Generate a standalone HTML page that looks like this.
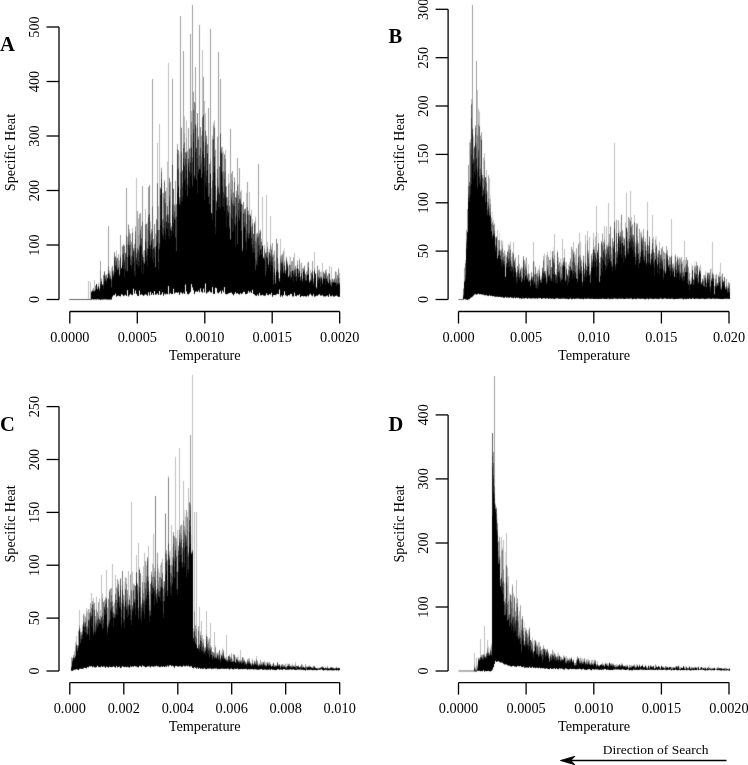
<!DOCTYPE html>
<html><head><meta charset="utf-8"><style>
html,body{margin:0;padding:0;background:#fff;}
svg{display:block;will-change:transform;}
.ax{stroke:#000;stroke-width:1.3;fill:none;}
.tk{font-family:"Liberation Serif", serif;font-size:14.3px;fill:#000;}
.lb{font-family:"Liberation Serif", serif;font-size:20.5px;font-weight:bold;fill:#000;}
</style></head><body>
<svg width="748" height="765" viewBox="0 0 748 765">
<rect width="748" height="765" fill="#fff"/>
<defs><filter id="bl" color-interpolation-filters="sRGB" x="0" y="0" width="748" height="765" filterUnits="userSpaceOnUse"><feConvolveMatrix order="3" kernelMatrix="0.0115 0.084 0.0115 0.084 0.618 0.084 0.0115 0.084 0.0115" divisor="1" edgeMode="none" preserveAlpha="false"/></filter></defs>
<g filter="url(#bl)">
<path stroke="rgb(224,224,224)" stroke-width="1" fill="none" shape-rendering="crispEdges" d="M76.5 669v1M78.5 670v1M80.5 629v3M82.5 624v1M84.5 613v3M85.5 616v1M89.5 609v4M91.5 290v1M91.5 666v1M92.5 289v1M92.5 299v1M92.5 667v1M94.5 602v1M96.5 596v1M96.5 667v1M97.5 286v2M97.5 611v1M98.5 282v1M99.5 598v1M99.5 667v1M102.5 593v1M107.5 607v1M108.5 598v1M109.5 589v1M110.5 271v1M110.5 588v1M111.5 267v1M111.5 667v1M112.5 265v1M113.5 270v1M113.5 605v1M114.5 602v1M116.5 250v1M119.5 260v1M119.5 296v1M119.5 595v1M120.5 668v1M121.5 266v1M121.5 598v4M122.5 666v1M123.5 296v1M123.5 594v1M124.5 245v1M124.5 582v14M124.5 667v1M125.5 252v1M127.5 290v1M128.5 667v1M129.5 295v1M129.5 595v1M132.5 295v1M133.5 583v1M137.5 583v1M137.5 667v1M138.5 218v1M139.5 567v1M140.5 666v1M141.5 225v1M141.5 603v1M142.5 576v6M143.5 251v1M143.5 566v1M146.5 565v1M147.5 222v1M149.5 591v1M150.5 221v1M150.5 583v1M151.5 571v1M152.5 293v1M152.5 563v1M157.5 552v1M158.5 568v1M159.5 572v1M159.5 667v1M161.5 167v1M162.5 193v1M162.5 292v1M162.5 558v1M163.5 192v1M163.5 581v1M166.5 187v1M167.5 161v1M168.5 286v1M169.5 177v1M169.5 551v1M170.5 181v1M170.5 550v15M170.5 665v1M171.5 666v1M172.5 547v10M173.5 188v1M175.5 180v1M178.5 545v1M179.5 155v42M180.5 525v1M180.5 666v1M181.5 127v1M181.5 524v1M182.5 525v22M184.5 116v1M184.5 510v16M185.5 516v1M186.5 120v1M187.5 150v1M187.5 512v5M191.5 284v1M191.5 535v17M193.5 91v1M193.5 628v1M196.5 127v1M197.5 647v1M200.5 631v1M201.5 135v1M204.5 646v2M204.5 668v1M205.5 669v1M206.5 135v1M206.5 669v1M207.5 636v1M208.5 639v1M211.5 669v1M212.5 135v1M212.5 287v1M213.5 122v1M215.5 149v1M215.5 645v2M216.5 190v10M216.5 652v2M217.5 136v1M219.5 292v1M219.5 649v1M219.5 669v1M220.5 653v1M221.5 651v4M222.5 146v1M223.5 151v1M224.5 287v1M225.5 657v1M227.5 658v1M229.5 654v1M232.5 669v1M234.5 654v1M235.5 292v1M235.5 656v1M236.5 657v1M238.5 294v1M238.5 655v5M239.5 659v1M239.5 669v1M240.5 191v1M240.5 669v1M241.5 294v1M241.5 659v1M242.5 204v1M244.5 659v1M244.5 669v1M245.5 661v1M248.5 210v1M248.5 669v1M250.5 213v1M251.5 209v1M251.5 669v1M252.5 658v1M252.5 669v1M253.5 233v1M254.5 660v1M255.5 216v1M255.5 660v2M257.5 232v1M258.5 663v1M260.5 229v1M262.5 661v1M264.5 660v1M265.5 662v1M268.5 251v1M268.5 662v1M269.5 661v1M270.5 663v1M271.5 246v1M271.5 665v1M271.5 669v1M273.5 295v1M273.5 662v1M274.5 250v1M274.5 664v1M275.5 260v15M275.5 295v1M275.5 670v1M278.5 263v1M278.5 294v1M278.5 669v1M280.5 665v1M282.5 253v1M283.5 250v1M283.5 295v1M283.5 664v1M283.5 669v1M284.5 248v13M284.5 669v1M285.5 269v1M285.5 663v1M286.5 256v1M286.5 665v1M287.5 261v1M287.5 663v1M288.5 266v1M289.5 256v8M289.5 663v1M290.5 665v1M291.5 261v1M292.5 663v1M293.5 665v1M295.5 265v1M296.5 665v1M300.5 264v12M301.5 262v1M301.5 296v1M302.5 664v1M303.5 267v1M304.5 265v1M306.5 271v1M307.5 666v1M307.5 670v1M308.5 261v1M310.5 269v1M313.5 294v1M313.5 665v1M317.5 265v1M317.5 667v1M318.5 667v1M321.5 271v1M321.5 666v1M323.5 271v1M324.5 670v1M325.5 666v1M326.5 667v1M327.5 275v1M327.5 665v1M330.5 279v1M330.5 670v1M332.5 278v1M333.5 279v1M333.5 667v1M336.5 666v1M337.5 667v1M337.5 670v1M338.5 667v1M463.5 299v1M464.5 267v1M466.5 229v1M469.5 299v1M473.5 136v1M475.5 294v1M475.5 666v1M477.5 664v1M478.5 108v1M478.5 657v1M479.5 111v1M480.5 135v1M480.5 294v1M482.5 654v1M483.5 157v1M486.5 295v1M486.5 652v1M487.5 191v1M489.5 652v1M490.5 195v4M490.5 647v1M491.5 217v1M491.5 643v2M492.5 211v10M494.5 223v1M495.5 503v1M497.5 518v5M498.5 661v1M499.5 233v7M499.5 536v1M500.5 556v23M502.5 547v2M503.5 252v1M504.5 583v1M505.5 254v1M505.5 552v46M506.5 255v2M507.5 567v1M509.5 593v6M510.5 297v1M511.5 595v1M513.5 593v1M518.5 614v2M520.5 268v1M521.5 266v1M522.5 667v1M523.5 627v1M524.5 621v20M525.5 259v4M525.5 627v1M526.5 628v2M527.5 273v1M527.5 633v1M528.5 264v1M528.5 298v1M529.5 273v1M529.5 626v2M530.5 279v1M531.5 271v1M532.5 637v1M533.5 641v10M534.5 261v13M535.5 668v1M536.5 273v1M536.5 642v1M537.5 270v1M537.5 644v1M538.5 298v1M538.5 668v1M539.5 265v1M540.5 277v2M540.5 298v1M541.5 275v1M541.5 649v1M544.5 253v1M546.5 649v1M547.5 648v1M550.5 250v8M550.5 653v1M552.5 649v1M553.5 247v4M553.5 651v1M554.5 299v1M554.5 652v1M555.5 273v1M555.5 669v1M556.5 656v1M557.5 653v3M558.5 652v1M560.5 258v1M560.5 656v1M562.5 658v1M565.5 262v1M567.5 669v1M568.5 264v1M569.5 657v1M569.5 669v1M570.5 658v1M571.5 246v1M571.5 669v1M572.5 660v1M574.5 251v1M575.5 254v1M575.5 662v1M576.5 659v1M577.5 263v2M577.5 669v1M578.5 243v1M578.5 669v1M579.5 658v2M580.5 241v1M580.5 657v1M581.5 259v1M581.5 658v1M582.5 270v1M582.5 658v1M582.5 669v1M583.5 255v1M583.5 659v2M584.5 268v1M586.5 265v1M587.5 659v1M588.5 250v1M592.5 252v1M592.5 669v1M593.5 232v1M593.5 660v3M594.5 659v1M595.5 236v1M597.5 661v1M598.5 233v10M598.5 299v1M600.5 256v1M600.5 664v1M604.5 663v1M605.5 662v1M605.5 669v1M606.5 226v1M606.5 299v1M606.5 663v1M608.5 664v1M610.5 663v1M610.5 670v1M611.5 247v1M612.5 299v1M612.5 663v1M613.5 241v1M613.5 663v1M614.5 664v1M616.5 219v1M617.5 243v1M617.5 299v1M617.5 664v1M619.5 230v6M620.5 223v9M621.5 214v1M622.5 663v1M622.5 669v1M624.5 665v1M625.5 222v1M627.5 228v3M627.5 664v1M628.5 666v1M629.5 218v1M629.5 664v1M632.5 665v1M635.5 242v1M635.5 665v1M636.5 299v1M637.5 223v1M637.5 664v1M638.5 666v1M639.5 228v1M640.5 232v1M640.5 666v1M641.5 231v1M643.5 228v1M644.5 241v1M644.5 299v1M644.5 666v1M645.5 238v1M645.5 664v1M646.5 247v4M646.5 666v1M647.5 667v1M648.5 245v1M649.5 666v1M650.5 254v1M651.5 249v1M653.5 665v1M655.5 236v3M656.5 236v8M656.5 665v1M657.5 670v1M658.5 299v1M659.5 666v1M662.5 299v1M663.5 666v1M664.5 252v1M664.5 667v1M665.5 253v1M668.5 259v1M668.5 667v1M669.5 666v1M673.5 299v1M673.5 670v1M674.5 256v10M674.5 299v1M674.5 670v1M676.5 261v1M678.5 665v1M678.5 670v1M679.5 665v2M680.5 258v1M682.5 261v1M682.5 670v1M684.5 670v1M685.5 259v1M686.5 299v1M686.5 666v1M687.5 667v1M688.5 667v1M689.5 272v1M689.5 670v1M690.5 280v1M690.5 667v1M691.5 263v15M692.5 265v1M694.5 261v5M694.5 666v1M695.5 265v1M696.5 261v1M696.5 670v1M698.5 274v1M698.5 670v1M700.5 264v1M702.5 278v1M702.5 667v1M704.5 299v1M705.5 271v1M705.5 667v1M706.5 278v1M706.5 667v2M706.5 670v1M708.5 272v1M709.5 272v1M709.5 667v1M710.5 670v1M711.5 268v10M711.5 667v1M713.5 273v1M714.5 667v1M717.5 670v1M718.5 670v1M719.5 670v1M722.5 299v1M722.5 670v1M723.5 280v1M725.5 667v1M727.5 668v1M727.5 670v1M729.5 282v1"/>
<path stroke="rgb(191,191,191)" stroke-width="1" fill="none" shape-rendering="crispEdges" d="M71.5 657v1M73.5 670v1M74.5 651v2M75.5 642v5M76.5 636v8M77.5 645v1M79.5 610v15M82.5 625v2M84.5 616v5M86.5 608v5M87.5 611v15M88.5 281v19M89.5 666v1M90.5 282v18M90.5 603v1M91.5 593v15M93.5 598v5M94.5 280v11M96.5 597v12M97.5 288v1M97.5 299v1M98.5 283v1M98.5 602v1M99.5 599v20M100.5 610v6M100.5 667v1M101.5 278v1M101.5 575v41M101.5 666v1M102.5 594v4M104.5 600v1M105.5 597v2M106.5 274v1M106.5 570v27M107.5 274v4M109.5 270v3M110.5 272v4M111.5 268v11M112.5 564v37M113.5 295v1M113.5 606v6M113.5 666v1M114.5 295v1M115.5 256v1M115.5 575v19M116.5 251v7M116.5 587v1M118.5 254v1M118.5 581v3M119.5 261v3M121.5 267v1M121.5 294v1M121.5 602v1M124.5 596v10M125.5 577v1M126.5 578v6M126.5 667v1M127.5 237v8M128.5 224v1M128.5 571v33M129.5 229v3M129.5 596v3M130.5 574v1M131.5 502v88M132.5 228v4M132.5 572v33M135.5 226v1M136.5 178v74M136.5 555v17M138.5 219v16M138.5 543v44M139.5 568v1M141.5 294v1M143.5 252v5M143.5 567v26M143.5 666v1M144.5 553v29M145.5 209v15M145.5 294v1M145.5 667v1M146.5 566v10M147.5 223v6M148.5 292v1M148.5 546v30M149.5 592v7M150.5 222v12M151.5 666v1M152.5 564v13M153.5 534v31M154.5 568v4M155.5 234v13M156.5 590v3M157.5 143v40M158.5 206v24M158.5 569v12M158.5 666v1M159.5 124v106M159.5 573v4M160.5 187v1M160.5 565v12M161.5 294v1M161.5 562v1M162.5 194v25M162.5 559v13M163.5 582v7M163.5 666v1M165.5 513v1M166.5 188v27M166.5 550v1M167.5 162v44M167.5 294v1M167.5 560v1M168.5 63v151M168.5 476v2M169.5 552v4M170.5 565v1M171.5 226v1M171.5 525v40M172.5 557v1M174.5 204v1M174.5 536v1M175.5 457v81M176.5 538v3M177.5 530v41M178.5 150v1M178.5 292v1M179.5 448v81M179.5 666v1M182.5 170v1M182.5 547v1M183.5 481v39M184.5 117v16M184.5 666v1M185.5 517v12M185.5 666v1M186.5 121v17M187.5 151v1M188.5 488v64M189.5 148v1M189.5 293v1M191.5 111v11M191.5 666v1M192.5 375v174M193.5 290v1M193.5 629v3M193.5 668v1M194.5 512v99M194.5 667v1M195.5 625v1M196.5 128v19M196.5 291v1M196.5 512v117M198.5 136v1M198.5 626v1M199.5 292v1M199.5 607v37M200.5 632v3M201.5 621v16M202.5 50v67M202.5 635v7M203.5 639v1M204.5 101v57M205.5 113v17M206.5 611v23M207.5 637v2M208.5 640v2M209.5 638v1M210.5 292v1M210.5 623v22M211.5 188v24M212.5 136v3M213.5 123v2M214.5 120v7M214.5 632v20M216.5 200v1M216.5 288v1M217.5 669v1M218.5 652v2M219.5 166v1M220.5 654v4M221.5 147v1M222.5 147v6M222.5 648v5M223.5 152v19M223.5 292v1M224.5 154v1M224.5 656v2M225.5 150v9M226.5 186v1M226.5 635v22M227.5 197v1M227.5 659v1M228.5 174v10M229.5 183v23M231.5 173v1M231.5 653v1M232.5 659v2M233.5 192v1M234.5 177v1M235.5 657v5M238.5 184v11M238.5 660v1M240.5 650v10M241.5 190v14M242.5 669v1M245.5 208v1M245.5 294v1M246.5 193v31M246.5 662v1M247.5 659v1M248.5 658v2M249.5 192v22M249.5 658v1M250.5 214v1M250.5 662v1M250.5 669v1M251.5 210v16M251.5 663v1M252.5 219v4M252.5 659v1M253.5 663v1M254.5 669v1M255.5 217v3M255.5 669v1M256.5 656v3M258.5 664v1M259.5 230v3M259.5 663v1M260.5 230v1M260.5 669v1M261.5 239v3M261.5 295v1M261.5 662v1M262.5 197v48M262.5 662v1M263.5 256v1M264.5 245v3M264.5 661v1M265.5 252v1M265.5 663v1M266.5 195v57M266.5 293v1M266.5 662v3M267.5 242v5M268.5 252v3M268.5 295v1M269.5 249v3M270.5 216v28M271.5 247v2M272.5 664v1M273.5 254v1M275.5 275v1M276.5 665v1M277.5 243v1M277.5 669v1M278.5 264v8M278.5 664v1M280.5 239v17M281.5 295v1M281.5 664v1M284.5 291v1M285.5 295v1M287.5 296v1M287.5 664v2M288.5 267v9M289.5 264v1M290.5 257v8M290.5 669v1M291.5 665v1M292.5 664v1M293.5 257v1M293.5 669v1M294.5 253v15M294.5 665v1M295.5 662v2M296.5 268v1M296.5 296v1M297.5 260v1M299.5 258v2M299.5 294v1M300.5 276v1M302.5 268v10M303.5 666v1M306.5 666v1M307.5 263v7M309.5 280v1M309.5 665v1M310.5 270v8M311.5 272v1M312.5 296v1M312.5 667v1M312.5 670v1M313.5 278v1M314.5 252v16M315.5 296v1M315.5 667v1M318.5 270v1M319.5 269v1M319.5 294v1M320.5 272v4M320.5 667v1M321.5 272v4M321.5 669v1M322.5 263v16M322.5 295v1M324.5 273v1M325.5 667v1M326.5 269v4M327.5 666v1M328.5 273v1M328.5 670v1M329.5 266v7M329.5 294v1M329.5 670v1M330.5 296v1M331.5 267v15M331.5 296v1M331.5 670v1M332.5 667v1M334.5 670v1M335.5 271v1M336.5 272v6M337.5 296v1M338.5 268v1M339.5 273v4M463.5 288v1M465.5 260v3M469.5 142v40M470.5 139v4M471.5 99v5M473.5 137v12M474.5 653v11M474.5 671v1M475.5 125v1M475.5 667v2M476.5 658v10M477.5 90v45M477.5 294v1M477.5 665v1M478.5 109v15M479.5 112v14M479.5 658v1M480.5 639v18M480.5 671v1M481.5 132v1M482.5 671v1M483.5 158v20M483.5 670v1M484.5 153v7M484.5 295v1M484.5 626v28M485.5 295v1M486.5 170v11M486.5 671v1M487.5 192v10M487.5 640v8M488.5 175v1M488.5 647v5M489.5 178v21M489.5 295v1M489.5 653v1M489.5 671v1M490.5 199v5M490.5 648v1M491.5 645v1M492.5 221v1M492.5 296v1M493.5 220v5M493.5 667v1M495.5 237v1M496.5 236v1M496.5 507v1M497.5 230v18M498.5 541v1M501.5 240v10M501.5 537v14M502.5 241v4M502.5 549v1M503.5 540v29M504.5 250v1M504.5 584v17M505.5 255v21M505.5 598v1M506.5 533v32M507.5 251v1M507.5 297v1M507.5 568v17M507.5 665v1M508.5 244v5M508.5 576v25M509.5 245v1M509.5 599v15M510.5 242v7M510.5 594v1M510.5 666v1M511.5 257v5M511.5 596v6M512.5 252v1M512.5 584v2M513.5 242v11M513.5 298v1M513.5 594v14M514.5 259v1M514.5 596v1M515.5 257v1M515.5 298v1M515.5 611v1M516.5 272v1M516.5 580v23M517.5 598v1M518.5 616v5M518.5 666v1M519.5 264v9M519.5 611v17M519.5 666v1M520.5 298v1M520.5 605v1M521.5 619v6M522.5 268v1M524.5 260v1M524.5 641v1M525.5 263v1M525.5 628v2M526.5 257v1M526.5 298v1M527.5 274v2M528.5 265v8M528.5 630v6M532.5 276v1M532.5 298v1M532.5 638v5M533.5 242v19M534.5 640v5M535.5 266v1M536.5 298v1M536.5 643v2M537.5 271v2M538.5 269v7M538.5 642v5M539.5 266v4M539.5 298v1M539.5 642v5M540.5 279v1M541.5 276v1M542.5 267v1M543.5 256v3M543.5 298v1M543.5 645v1M544.5 254v17M544.5 298v1M544.5 648v1M545.5 649v1M546.5 255v22M546.5 668v1M547.5 252v3M547.5 298v1M548.5 652v1M549.5 656v2M549.5 669v1M550.5 258v2M553.5 251v8M553.5 652v3M554.5 234v21M554.5 653v1M554.5 668v1M555.5 654v1M556.5 269v6M556.5 668v1M557.5 250v2M557.5 298v1M558.5 257v7M558.5 653v3M558.5 669v1M559.5 655v1M559.5 668v1M560.5 259v7M561.5 263v4M561.5 657v1M562.5 239v26M563.5 258v3M563.5 655v1M564.5 249v8M564.5 656v1M565.5 263v4M565.5 657v1M565.5 668v1M566.5 262v6M566.5 656v4M567.5 274v1M568.5 265v5M568.5 299v1M568.5 659v1M569.5 262v3M569.5 658v1M570.5 258v1M571.5 299v1M572.5 249v1M573.5 242v10M573.5 659v1M574.5 252v5M575.5 255v10M575.5 669v1M576.5 248v1M576.5 669v1M577.5 265v1M577.5 656v1M579.5 233v22M579.5 660v1M580.5 242v13M581.5 260v1M581.5 659v2M582.5 271v10M582.5 659v2M583.5 299v1M585.5 235v9M586.5 659v1M587.5 231v9M587.5 660v2M588.5 251v2M588.5 659v2M588.5 669v1M589.5 237v26M589.5 660v1M590.5 271v1M590.5 663v1M591.5 660v2M591.5 670v1M592.5 253v6M592.5 660v4M593.5 233v6M593.5 669v1M594.5 247v3M595.5 237v8M595.5 660v1M595.5 669v1M596.5 206v26M596.5 664v1M597.5 662v2M599.5 262v1M599.5 665v1M602.5 233v1M602.5 662v2M603.5 664v1M604.5 226v13M604.5 664v2M605.5 249v1M606.5 227v18M607.5 245v2M607.5 663v1M608.5 203v39M609.5 299v1M609.5 662v1M610.5 226v1M611.5 248v6M611.5 663v1M614.5 143v78M615.5 252v1M616.5 664v2M617.5 244v7M617.5 665v1M618.5 220v1M621.5 663v1M622.5 230v1M623.5 237v2M624.5 238v1M625.5 223v28M625.5 665v1M626.5 193v34M626.5 665v1M627.5 231v1M627.5 665v1M628.5 667v1M630.5 191v30M630.5 665v2M631.5 217v9M631.5 665v1M631.5 670v1M632.5 224v1M632.5 299v1M634.5 215v7M634.5 664v1M635.5 243v10M635.5 666v1M636.5 223v1M636.5 664v3M638.5 243v1M639.5 664v1M640.5 233v19M641.5 232v2M642.5 664v1M643.5 229v1M645.5 239v3M645.5 299v1M647.5 202v28M648.5 665v1M649.5 236v1M649.5 667v1M650.5 255v4M651.5 250v3M652.5 215v24M652.5 666v1M653.5 237v12M655.5 239v1M655.5 664v1M656.5 244v1M657.5 254v3M658.5 250v1M659.5 242v8M660.5 254v1M661.5 248v1M661.5 665v1M662.5 246v1M663.5 251v1M665.5 254v17M666.5 666v1M666.5 670v1M668.5 260v1M669.5 256v1M671.5 219v36M672.5 264v1M673.5 263v1M674.5 266v1M674.5 667v1M675.5 254v1M675.5 666v1M677.5 256v1M677.5 670v1M678.5 259v1M679.5 257v1M679.5 667v1M680.5 259v1M680.5 667v1M680.5 670v1M682.5 262v2M683.5 260v11M684.5 241v26M684.5 667v1M685.5 260v5M685.5 666v2M686.5 670v1M688.5 267v1M690.5 281v3M691.5 670v1M692.5 667v1M693.5 667v1M693.5 670v1M694.5 667v1M695.5 266v1M696.5 667v1M697.5 667v1M698.5 666v1M699.5 267v2M700.5 265v5M700.5 667v1M703.5 275v5M704.5 667v1M704.5 670v1M705.5 272v3M706.5 279v4M707.5 272v1M708.5 666v1M711.5 668v1M711.5 670v1M712.5 242v30M713.5 274v1M713.5 670v1M714.5 670v1M715.5 275v3M717.5 667v1M718.5 275v1M718.5 667v1M719.5 272v5M720.5 263v13M721.5 276v11M722.5 273v1M722.5 668v1M723.5 668v1M727.5 286v2"/>
<path stroke="rgb(158,158,158)" stroke-width="1" fill="none" shape-rendering="crispEdges" d="M71.5 658v8M72.5 658v1M73.5 655v2M74.5 653v4M75.5 647v8M78.5 631v14M79.5 625v1M80.5 632v1M81.5 632v2M82.5 627v4M83.5 614v2M84.5 621v1M85.5 617v5M86.5 613v6M86.5 668v1M88.5 609v10M88.5 667v1M90.5 604v7M91.5 291v1M92.5 290v1M92.5 601v3M93.5 288v1M93.5 603v1M94.5 299v1M94.5 603v6M94.5 667v1M95.5 299v1M95.5 616v5M95.5 667v1M96.5 609v1M97.5 612v1M98.5 284v2M98.5 603v12M99.5 288v1M99.5 299v1M100.5 261v10M101.5 279v1M101.5 616v1M102.5 284v1M102.5 598v1M104.5 271v1M104.5 299v1M104.5 601v6M105.5 275v1M105.5 299v1M105.5 599v1M106.5 597v1M107.5 608v17M108.5 226v40M108.5 599v1M109.5 590v2M110.5 589v13M111.5 588v7M112.5 266v1M113.5 271v2M114.5 252v1M114.5 603v11M116.5 588v12M117.5 579v9M117.5 667v1M118.5 255v5M119.5 264v10M119.5 596v1M120.5 235v20M120.5 296v1M120.5 578v1M121.5 603v6M121.5 667v1M122.5 246v1M123.5 244v1M123.5 595v4M124.5 295v1M124.5 606v1M125.5 578v11M126.5 188v47M127.5 245v12M127.5 590v4M129.5 232v1M129.5 599v1M130.5 234v6M130.5 575v30M130.5 666v1M131.5 242v14M132.5 232v1M132.5 605v1M132.5 666v1M133.5 248v1M133.5 584v6M134.5 244v5M134.5 585v14M135.5 227v4M135.5 666v1M136.5 252v1M137.5 211v37M137.5 584v1M138.5 235v15M138.5 587v21M138.5 667v1M139.5 214v31M139.5 569v1M140.5 213v17M140.5 573v2M141.5 226v12M141.5 604v3M142.5 186v35M142.5 582v1M142.5 665v1M144.5 250v12M145.5 561v22M146.5 576v1M147.5 229v19M147.5 557v1M147.5 666v1M148.5 187v28M148.5 576v1M148.5 666v1M149.5 185v1M149.5 599v6M149.5 666v1M150.5 234v1M150.5 667v1M151.5 229v3M151.5 572v3M152.5 79v127M152.5 666v1M153.5 565v11M154.5 224v1M154.5 572v5M154.5 666v1M155.5 666v1M156.5 219v1M156.5 294v1M157.5 293v1M157.5 553v11M158.5 581v4M161.5 168v4M161.5 563v15M161.5 666v1M162.5 572v1M163.5 193v5M164.5 180v2M164.5 581v1M165.5 191v1M165.5 666v1M166.5 215v1M166.5 551v3M167.5 561v19M168.5 214v1M169.5 294v1M169.5 665v1M170.5 182v41M170.5 566v7M172.5 79v85M172.5 558v7M173.5 532v3M173.5 666v1M174.5 205v1M174.5 537v16M175.5 181v25M176.5 204v1M176.5 292v1M176.5 541v15M177.5 144v5M177.5 571v1M177.5 666v1M178.5 546v3M179.5 529v1M180.5 16v156M180.5 526v7M181.5 525v10M183.5 51v93M183.5 520v1M184.5 133v9M184.5 526v5M185.5 152v1M185.5 529v5M186.5 138v14M186.5 510v26M187.5 152v26M187.5 517v1M187.5 666v1M188.5 128v30M188.5 294v1M188.5 552v1M189.5 502v1M190.5 34v114M190.5 435v69M190.5 666v1M191.5 552v1M192.5 5v152M192.5 287v1M192.5 549v1M193.5 92v17M193.5 632v5M194.5 611v1M195.5 67v37M195.5 626v10M196.5 147v1M198.5 137v3M198.5 290v1M198.5 627v4M199.5 25v130M200.5 127v1M200.5 288v1M201.5 136v21M201.5 637v1M201.5 668v1M202.5 642v1M203.5 77v37M203.5 640v3M204.5 648v1M205.5 130v1M205.5 647v1M206.5 634v2M207.5 144v1M207.5 639v5M208.5 108v75M209.5 639v9M210.5 29v130M210.5 645v1M210.5 668v1M211.5 212v1M211.5 647v1M212.5 139v1M213.5 125v1M213.5 652v1M214.5 127v1M214.5 652v1M215.5 150v23M215.5 647v1M216.5 654v3M216.5 668v1M217.5 137v32M217.5 653v1M218.5 52v133M218.5 293v1M218.5 654v1M220.5 79v54M220.5 658v1M222.5 290v1M223.5 650v1M225.5 658v1M226.5 187v10M226.5 294v1M226.5 657v3M227.5 198v7M228.5 184v1M229.5 655v1M230.5 129v85M230.5 657v1M231.5 174v15M231.5 654v3M232.5 171v10M233.5 295v1M233.5 654v7M234.5 178v4M235.5 197v1M236.5 191v4M236.5 658v1M237.5 158v28M237.5 657v2M238.5 669v1M239.5 168v30M239.5 660v1M240.5 192v6M240.5 660v1M241.5 660v1M242.5 205v43M242.5 293v1M243.5 658v2M244.5 209v2M246.5 663v1M247.5 182v25M247.5 293v1M248.5 211v4M248.5 660v1M249.5 659v2M249.5 669v1M250.5 215v1M251.5 664v1M252.5 223v1M252.5 660v1M254.5 222v1M255.5 220v21M255.5 662v1M256.5 234v5M256.5 659v1M258.5 164v71M260.5 295v1M260.5 660v4M261.5 663v1M262.5 663v1M263.5 257v1M264.5 248v1M264.5 662v2M264.5 669v1M265.5 664v1M266.5 665v1M267.5 662v1M268.5 255v9M268.5 663v1M269.5 662v1M269.5 669v1M270.5 244v1M271.5 249v1M272.5 243v13M272.5 665v1M274.5 251v10M274.5 665v1M275.5 276v4M275.5 665v1M276.5 294v1M277.5 662v1M279.5 278v1M279.5 664v1M280.5 256v1M280.5 666v1M280.5 669v1M281.5 255v6M282.5 254v2M282.5 664v1M283.5 251v13M283.5 665v1M284.5 261v1M284.5 665v1M285.5 270v1M285.5 664v3M286.5 257v2M286.5 666v1M287.5 262v2M288.5 276v1M288.5 664v1M289.5 295v1M291.5 262v9M292.5 261v8M292.5 296v1M292.5 665v1M293.5 258v12M293.5 296v1M294.5 268v1M294.5 666v1M295.5 664v2M296.5 269v7M297.5 261v3M298.5 295v1M298.5 665v1M299.5 260v1M301.5 263v7M301.5 664v1M302.5 278v1M302.5 665v2M303.5 268v1M303.5 296v1M304.5 667v1M305.5 664v3M306.5 272v4M307.5 270v1M308.5 296v1M308.5 666v1M309.5 281v1M309.5 666v1M310.5 278v1M310.5 666v1M311.5 295v1M312.5 261v9M313.5 279v2M314.5 268v1M315.5 273v1M316.5 670v1M318.5 271v5M319.5 270v2M320.5 276v1M321.5 276v1M322.5 279v1M322.5 666v1M323.5 296v1M324.5 296v1M325.5 270v1M328.5 274v9M329.5 273v1M330.5 667v1M332.5 295v1M332.5 670v1M333.5 280v2M333.5 670v1M334.5 278v1M336.5 278v1M336.5 667v1M336.5 670v1M338.5 269v1M339.5 277v5M464.5 268v13M465.5 299v1M466.5 230v9M467.5 209v22M468.5 165v21M468.5 299v1M471.5 297v1M472.5 5v123M473.5 149v9M474.5 146v1M474.5 664v3M475.5 126v2M475.5 669v1M476.5 61v83M476.5 668v2M477.5 135v1M478.5 124v1M479.5 294v1M480.5 136v32M481.5 133v6M481.5 294v1M481.5 655v1M482.5 175v2M482.5 655v2M483.5 178v1M483.5 654v1M484.5 160v1M485.5 656v1M486.5 181v2M486.5 653v1M487.5 648v1M488.5 176v22M488.5 652v1M489.5 199v9M489.5 654v1M490.5 649v1M490.5 671v1M491.5 218v6M491.5 646v4M492.5 222v1M493.5 452v11M494.5 224v6M494.5 376v110M495.5 238v7M495.5 504v2M496.5 508v1M497.5 248v10M497.5 523v1M498.5 240v11M498.5 542v9M499.5 240v1M499.5 537v5M500.5 250v2M500.5 579v2M501.5 250v1M501.5 297v1M501.5 551v22M502.5 245v3M503.5 253v4M503.5 569v1M504.5 251v5M505.5 276v1M505.5 599v4M505.5 664v1M506.5 257v6M507.5 585v19M508.5 249v1M508.5 601v1M509.5 246v7M509.5 614v1M510.5 249v1M511.5 262v2M512.5 253v3M512.5 586v1M513.5 253v1M513.5 608v8M514.5 260v1M514.5 597v1M515.5 258v10M515.5 612v8M516.5 273v2M516.5 603v1M517.5 599v4M518.5 255v8M518.5 621v2M519.5 628v4M520.5 269v1M520.5 606v27M521.5 267v9M521.5 625v5M522.5 269v9M522.5 298v1M522.5 616v3M523.5 256v1M523.5 298v1M523.5 628v3M524.5 261v8M524.5 642v2M525.5 264v2M525.5 630v1M526.5 258v10M527.5 634v3M528.5 273v1M528.5 636v1M529.5 274v6M529.5 298v1M529.5 628v1M530.5 298v1M531.5 272v1M531.5 641v1M532.5 277v1M532.5 643v1M533.5 261v1M533.5 298v1M533.5 651v1M534.5 274v1M534.5 645v1M535.5 267v1M535.5 640v1M536.5 274v1M536.5 645v1M537.5 645v1M538.5 276v1M538.5 647v4M539.5 270v1M539.5 647v1M540.5 646v1M540.5 668v1M541.5 277v2M541.5 650v1M542.5 649v4M542.5 668v1M543.5 259v2M543.5 646v2M545.5 271v2M546.5 277v2M546.5 298v1M546.5 650v2M547.5 255v10M547.5 649v1M548.5 257v10M548.5 653v1M549.5 260v14M549.5 298v1M549.5 658v1M550.5 654v1M551.5 654v1M552.5 251v1M552.5 650v4M554.5 255v1M555.5 655v1M556.5 298v1M558.5 264v1M558.5 656v1M559.5 262v1M560.5 266v1M560.5 657v2M561.5 267v6M561.5 658v1M561.5 668v1M563.5 656v3M563.5 669v1M564.5 257v1M565.5 267v12M565.5 658v1M566.5 268v1M566.5 660v1M567.5 658v2M569.5 265v1M570.5 259v2M570.5 298v1M570.5 659v1M571.5 247v22M571.5 657v1M572.5 250v11M574.5 257v1M574.5 663v2M576.5 249v24M576.5 660v1M577.5 266v4M578.5 244v2M579.5 255v1M580.5 255v2M580.5 658v3M581.5 261v5M582.5 661v2M583.5 661v1M584.5 269v4M584.5 658v1M585.5 244v12M585.5 662v1M586.5 266v4M586.5 660v1M587.5 240v1M587.5 662v1M587.5 669v1M588.5 253v1M589.5 263v1M589.5 661v2M590.5 272v1M591.5 254v2M593.5 239v10M593.5 663v1M594.5 660v2M595.5 245v8M596.5 232v26M596.5 669v1M597.5 250v2M597.5 669v1M599.5 263v18M600.5 257v1M601.5 241v2M602.5 234v11M602.5 664v1M603.5 242v7M604.5 239v1M605.5 250v7M605.5 663v1M606.5 245v1M607.5 664v1M608.5 242v1M608.5 665v1M609.5 234v12M611.5 254v1M612.5 238v3M613.5 242v4M613.5 664v1M614.5 221v1M614.5 298v1M614.5 665v1M615.5 253v11M615.5 665v1M615.5 669v1M616.5 220v13M617.5 669v1M618.5 221v11M619.5 236v1M620.5 232v1M620.5 665v1M621.5 664v1M622.5 664v1M623.5 239v6M625.5 251v4M626.5 666v1M627.5 232v9M628.5 217v22M629.5 219v16M629.5 665v2M629.5 670v1M632.5 225v9M632.5 670v1M633.5 665v1M634.5 665v1M635.5 253v2M636.5 224v2M637.5 224v12M637.5 298v1M638.5 244v9M639.5 229v20M640.5 669v1M641.5 234v2M642.5 238v2M643.5 230v6M644.5 242v13M645.5 665v1M646.5 251v10M648.5 246v4M648.5 299v1M650.5 259v3M651.5 666v1M654.5 253v3M655.5 240v8M656.5 245v1M656.5 666v1M657.5 257v7M658.5 251v2M659.5 250v1M660.5 668v1M662.5 247v12M663.5 252v17M664.5 253v6M664.5 298v1M665.5 271v1M666.5 246v7M667.5 250v5M668.5 261v4M669.5 257v1M670.5 257v7M671.5 255v1M671.5 667v1M671.5 670v1M672.5 265v2M672.5 667v1M673.5 264v4M673.5 667v1M674.5 267v9M675.5 255v1M676.5 262v7M677.5 257v1M677.5 666v1M678.5 260v5M679.5 258v4M679.5 668v1M680.5 260v12M680.5 668v1M681.5 257v5M681.5 667v1M682.5 264v5M683.5 271v1M683.5 299v1M684.5 267v1M685.5 265v1M685.5 668v1M686.5 257v7M688.5 268v11M689.5 273v6M689.5 298v1M689.5 666v1M690.5 668v1M691.5 278v3M691.5 667v1M692.5 266v4M692.5 298v1M693.5 279v1M694.5 266v3M695.5 267v1M696.5 262v4M697.5 265v1M697.5 669v1M698.5 275v2M699.5 269v1M700.5 270v1M701.5 282v1M703.5 280v1M704.5 275v2M704.5 668v1M705.5 275v2M707.5 670v1M709.5 273v1M710.5 269v17M711.5 278v1M712.5 272v1M712.5 668v1M714.5 286v8M715.5 278v1M716.5 274v5M716.5 668v1M720.5 276v1M720.5 670v1M723.5 670v1M724.5 670v1M725.5 287v1M725.5 668v1M725.5 670v1M726.5 279v6M726.5 668v1M727.5 288v1M728.5 282v2M728.5 670v1M729.5 283v2M729.5 668v1"/>
<path stroke="rgb(128,128,128)" stroke-width="1" fill="none" shape-rendering="crispEdges" d="M72.5 659v2M75.5 655v1M76.5 644v1M77.5 646v2M77.5 669v1M79.5 626v2M80.5 633v3M81.5 634v1M83.5 616v6M83.5 668v1M84.5 622v2M86.5 619v8M87.5 626v3M88.5 619v1M89.5 613v7M90.5 611v1M90.5 666v1M91.5 608v7M92.5 604v1M93.5 289v2M93.5 604v25M93.5 666v1M94.5 609v1M95.5 286v3M95.5 621v5M96.5 299v1M96.5 610v10M97.5 613v6M98.5 299v1M98.5 615v2M100.5 271v10M100.5 616v4M101.5 280v1M101.5 299v1M102.5 299v1M102.5 599v14M103.5 275v8M103.5 299v1M103.5 602v17M103.5 666v1M105.5 276v2M105.5 600v4M106.5 275v1M106.5 299v1M106.5 598v1M107.5 625v1M108.5 266v1M108.5 299v1M108.5 600v20M109.5 273v1M110.5 299v1M111.5 299v1M112.5 267v3M112.5 601v5M113.5 273v1M113.5 612v1M114.5 253v3M116.5 258v2M117.5 258v10M117.5 588v1M118.5 260v7M118.5 584v1M119.5 597v1M119.5 666v1M120.5 255v1M120.5 579v1M121.5 609v1M122.5 247v7M122.5 571v14M123.5 245v1M123.5 599v1M124.5 246v14M126.5 235v1M126.5 584v16M127.5 594v4M128.5 225v11M128.5 296v1M128.5 604v1M129.5 233v12M130.5 240v4M131.5 590v1M133.5 249v2M134.5 249v2M135.5 231v1M135.5 290v1M136.5 253v4M136.5 666v1M140.5 575v13M141.5 607v1M142.5 221v1M142.5 583v7M143.5 593v7M144.5 582v18M144.5 666v1M145.5 224v1M145.5 583v5M146.5 224v18M146.5 577v6M147.5 558v2M148.5 577v4M149.5 186v28M149.5 295v1M149.5 605v5M150.5 235v10M150.5 584v25M151.5 232v1M152.5 206v1M152.5 577v8M153.5 239v9M153.5 576v7M154.5 225v22M155.5 247v5M155.5 496v75M156.5 220v13M156.5 593v2M157.5 183v1M157.5 564v8M157.5 666v1M158.5 585v5M159.5 230v13M159.5 577v14M160.5 188v1M160.5 577v9M161.5 578v1M162.5 219v2M162.5 573v1M163.5 198v21M163.5 589v7M164.5 293v1M164.5 582v2M165.5 192v11M165.5 294v1M165.5 514v39M166.5 216v5M167.5 580v10M168.5 215v2M168.5 478v65M169.5 178v5M169.5 556v2M171.5 227v3M171.5 565v8M172.5 164v1M172.5 565v1M173.5 535v1M174.5 206v5M174.5 293v1M174.5 553v6M175.5 206v11M175.5 538v8M176.5 205v11M178.5 151v17M178.5 549v2M179.5 197v3M179.5 530v5M180.5 292v1M180.5 533v9M181.5 128v24M181.5 535v4M182.5 171v12M182.5 548v14M183.5 144v4M183.5 521v9M184.5 142v1M184.5 531v2M185.5 153v5M185.5 284v1M185.5 534v1M186.5 291v1M186.5 536v1M187.5 178v6M187.5 518v12M188.5 158v1M188.5 553v1M189.5 503v17M190.5 148v9M190.5 504v1M191.5 122v13M191.5 553v1M192.5 157v1M192.5 550v1M193.5 109v1M193.5 637v1M194.5 102v73M194.5 612v19M195.5 104v20M196.5 629v9M197.5 113v10M197.5 667v1M199.5 644v1M200.5 128v20M200.5 635v1M201.5 157v5M201.5 638v3M202.5 117v1M202.5 643v3M203.5 114v1M203.5 288v1M203.5 643v1M204.5 292v1M204.5 649v2M205.5 283v1M205.5 648v2M206.5 136v3M206.5 293v1M207.5 145v8M207.5 292v1M208.5 642v5M209.5 164v19M210.5 159v3M210.5 646v3M211.5 292v1M211.5 648v3M212.5 140v40M212.5 652v2M213.5 126v13M213.5 653v1M214.5 653v1M214.5 668v1M215.5 173v12M215.5 648v8M216.5 201v1M216.5 657v1M217.5 654v1M218.5 185v2M218.5 655v1M219.5 167v26M219.5 650v1M221.5 148v4M222.5 153v19M222.5 653v2M223.5 171v21M223.5 651v1M224.5 155v18M225.5 159v12M227.5 668v1M228.5 185v15M228.5 293v1M229.5 669v1M230.5 214v25M230.5 658v1M231.5 189v5M231.5 657v1M232.5 181v22M233.5 193v8M233.5 669v1M235.5 198v19M236.5 195v3M237.5 659v1M237.5 668v1M238.5 195v8M239.5 198v1M239.5 294v1M239.5 661v1M240.5 198v1M241.5 661v1M242.5 248v2M242.5 657v1M243.5 202v11M243.5 660v1M244.5 660v1M246.5 224v6M247.5 660v1M248.5 661v1M249.5 214v6M250.5 291v1M250.5 663v1M251.5 226v5M252.5 661v2M253.5 664v1M253.5 669v1M254.5 223v1M254.5 294v1M254.5 661v1M255.5 295v1M255.5 663v1M256.5 239v4M256.5 669v1M257.5 233v4M257.5 294v1M257.5 661v3M258.5 235v1M258.5 665v1M259.5 233v1M259.5 664v1M259.5 669v1M260.5 231v1M260.5 664v1M262.5 245v1M263.5 295v1M263.5 662v1M264.5 249v1M264.5 664v1M265.5 253v1M266.5 252v1M267.5 247v2M269.5 252v1M269.5 663v2M270.5 245v11M272.5 256v1M273.5 255v17M274.5 261v1M274.5 666v1M275.5 280v3M276.5 239v16M277.5 244v14M278.5 665v1M279.5 279v2M279.5 289v1M280.5 257v2M281.5 665v1M282.5 256v2M283.5 264v6M284.5 262v3M285.5 271v1M289.5 664v2M289.5 669v1M290.5 265v6M291.5 271v1M291.5 666v1M292.5 269v1M292.5 669v1M293.5 270v1M294.5 269v1M295.5 266v3M295.5 666v1M297.5 264v1M297.5 669v1M298.5 269v4M299.5 261v10M300.5 666v1M301.5 270v3M301.5 665v1M304.5 266v3M305.5 274v1M305.5 296v1M305.5 670v1M306.5 296v1M306.5 669v1M307.5 271v3M307.5 295v1M308.5 262v5M310.5 279v1M311.5 667v1M312.5 270v1M313.5 281v1M313.5 666v1M314.5 269v2M314.5 666v1M316.5 287v1M317.5 266v7M317.5 668v1M318.5 276v1M319.5 272v6M321.5 295v1M322.5 280v2M323.5 272v1M323.5 670v1M325.5 271v1M325.5 296v1M326.5 273v5M327.5 276v2M327.5 295v1M327.5 667v1M327.5 670v1M330.5 280v2M333.5 296v1M334.5 279v1M334.5 668v1M335.5 272v10M336.5 279v1M336.5 295v1M337.5 275v8M338.5 270v8M339.5 282v1M463.5 289v5M465.5 263v1M466.5 239v2M467.5 231v1M470.5 143v6M471.5 104v1M472.5 128v1M473.5 158v1M474.5 147v1M474.5 294v1M474.5 667v1M475.5 671v1M476.5 144v3M477.5 136v30M477.5 666v2M478.5 125v24M478.5 658v1M479.5 126v1M480.5 168v1M481.5 139v1M481.5 656v1M482.5 177v1M482.5 657v1M483.5 179v10M484.5 161v14M484.5 654v2M485.5 177v1M486.5 654v1M487.5 202v7M487.5 649v2M488.5 198v4M489.5 208v1M490.5 204v8M490.5 650v1M491.5 650v2M492.5 223v12M494.5 230v1M494.5 486v1M495.5 506v2M497.5 524v5M497.5 661v1M498.5 551v6M499.5 241v8M499.5 542v15M500.5 252v3M500.5 581v5M500.5 662v1M501.5 573v4M501.5 662v1M502.5 248v1M502.5 550v33M503.5 570v11M504.5 601v1M504.5 664v1M506.5 565v1M506.5 664v1M508.5 250v9M508.5 602v12M511.5 264v1M511.5 602v6M512.5 256v10M512.5 587v29M513.5 616v1M514.5 297v1M514.5 598v1M514.5 666v1M515.5 620v1M515.5 666v1M516.5 275v2M516.5 604v12M517.5 266v5M517.5 603v4M518.5 263v5M518.5 623v13M519.5 273v1M519.5 298v1M519.5 632v3M520.5 633v4M523.5 257v2M523.5 631v4M524.5 269v1M524.5 298v1M524.5 644v1M525.5 266v1M525.5 631v1M525.5 667v1M526.5 268v2M526.5 630v2M526.5 667v1M527.5 276v1M527.5 637v1M527.5 667v1M528.5 637v5M529.5 629v3M530.5 280v1M531.5 273v3M531.5 642v1M532.5 644v2M534.5 275v6M534.5 298v1M534.5 646v4M535.5 268v6M535.5 298v1M536.5 275v7M536.5 646v1M537.5 273v3M537.5 646v1M538.5 277v2M538.5 651v3M539.5 271v2M539.5 648v3M540.5 647v3M541.5 651v3M542.5 268v1M542.5 298v1M542.5 653v1M543.5 648v1M545.5 650v4M546.5 279v2M547.5 265v1M547.5 650v1M548.5 267v6M549.5 274v1M549.5 659v2M550.5 260v8M550.5 655v1M551.5 267v11M551.5 655v2M552.5 252v5M552.5 654v1M553.5 259v2M553.5 655v1M554.5 256v7M555.5 274v1M556.5 657v1M557.5 252v1M557.5 656v1M558.5 657v2M559.5 263v7M560.5 267v10M560.5 659v1M561.5 273v2M562.5 659v1M563.5 261v2M564.5 657v1M565.5 279v1M565.5 659v2M566.5 661v1M568.5 669v1M569.5 266v1M569.5 659v1M570.5 261v5M571.5 658v1M572.5 261v1M572.5 661v1M573.5 252v2M574.5 258v4M575.5 265v2M575.5 663v2M576.5 273v5M576.5 661v1M577.5 270v9M577.5 657v2M578.5 246v11M579.5 256v12M579.5 661v1M580.5 257v2M580.5 661v2M581.5 661v1M582.5 281v1M583.5 256v4M584.5 273v1M584.5 298v1M584.5 659v1M585.5 256v6M585.5 663v1M586.5 661v1M587.5 241v9M587.5 663v1M588.5 254v3M588.5 661v1M589.5 264v11M590.5 273v1M590.5 664v1M591.5 662v1M592.5 259v2M594.5 250v2M595.5 253v1M596.5 258v1M597.5 664v1M598.5 243v1M598.5 665v1M599.5 281v1M600.5 258v6M602.5 245v1M602.5 669v1M603.5 249v1M604.5 240v3M606.5 246v7M606.5 664v1M607.5 247v1M607.5 665v1M607.5 669v1M608.5 243v3M608.5 298v1M610.5 227v12M610.5 664v1M611.5 255v6M611.5 664v1M612.5 241v23M612.5 664v1M614.5 669v1M615.5 666v1M616.5 666v1M616.5 669v1M617.5 251v1M617.5 666v1M618.5 232v1M618.5 665v1M618.5 669v1M619.5 664v1M620.5 233v2M621.5 215v22M622.5 231v5M624.5 239v1M625.5 255v1M626.5 227v1M627.5 669v1M628.5 239v9M628.5 669v1M629.5 235v3M630.5 221v1M631.5 226v1M631.5 298v1M631.5 666v1M632.5 234v1M633.5 235v2M633.5 669v1M634.5 222v1M635.5 255v2M635.5 667v1M636.5 226v2M637.5 236v4M637.5 665v1M639.5 249v11M640.5 252v4M641.5 236v1M642.5 240v1M643.5 236v1M644.5 255v1M645.5 242v3M646.5 261v2M646.5 667v1M647.5 230v1M648.5 250v3M649.5 237v3M650.5 262v1M650.5 665v1M651.5 253v1M652.5 239v4M653.5 249v3M654.5 256v5M654.5 668v1M655.5 248v11M655.5 665v3M656.5 669v1M658.5 253v1M660.5 255v1M660.5 298v1M661.5 249v6M662.5 259v1M663.5 269v1M663.5 667v1M665.5 272v1M665.5 666v1M669.5 258v6M670.5 264v1M670.5 669v1M671.5 668v1M672.5 267v1M673.5 268v1M674.5 276v1M675.5 256v1M675.5 667v1M675.5 669v1M676.5 269v1M676.5 666v1M679.5 262v2M680.5 272v1M681.5 262v2M682.5 269v3M683.5 272v1M685.5 266v6M687.5 260v2M688.5 279v2M689.5 279v1M690.5 670v1M691.5 281v2M694.5 269v3M695.5 268v5M696.5 266v8M697.5 668v1M698.5 277v5M699.5 669v1M700.5 271v1M702.5 668v1M704.5 277v1M705.5 670v1M707.5 273v1M708.5 273v5M708.5 298v1M708.5 667v2M709.5 274v1M710.5 668v1M711.5 279v1M712.5 273v1M713.5 275v3M713.5 298v1M715.5 279v1M715.5 669v1M716.5 279v5M717.5 283v1M718.5 276v1M720.5 277v4M721.5 287v1M722.5 274v5M723.5 281v1M724.5 668v1M725.5 288v1M726.5 285v1M726.5 670v1M728.5 284v3"/>
<path stroke="rgb(97,97,97)" stroke-width="1" fill="none" shape-rendering="crispEdges" d="M71.5 666v1M73.5 657v1M74.5 657v1M74.5 669v1M75.5 669v1M77.5 648v2M78.5 645v1M79.5 628v1M80.5 636v3M80.5 668v1M81.5 635v1M82.5 631v3M83.5 622v1M84.5 624v3M84.5 667v1M85.5 622v1M87.5 629v5M89.5 620v1M90.5 612v1M91.5 615v1M93.5 299v1M93.5 629v3M95.5 289v1M95.5 626v4M96.5 620v3M97.5 619v1M98.5 617v1M99.5 289v1M99.5 619v1M100.5 281v2M100.5 620v1M101.5 281v1M101.5 617v1M102.5 613v3M103.5 283v1M103.5 619v1M104.5 272v1M104.5 666v1M105.5 278v1M105.5 604v1M106.5 276v4M106.5 666v1M107.5 299v1M107.5 626v3M108.5 267v4M108.5 620v4M108.5 667v1M109.5 274v1M109.5 299v1M109.5 592v28M109.5 666v1M110.5 276v1M110.5 602v7M111.5 279v2M111.5 595v7M112.5 270v1M112.5 296v1M112.5 606v1M113.5 274v1M113.5 613v1M114.5 256v2M114.5 614v3M115.5 257v8M115.5 293v1M115.5 594v6M116.5 260v2M116.5 296v1M116.5 600v8M117.5 268v2M117.5 589v13M118.5 295v1M118.5 585v6M119.5 274v1M119.5 598v4M120.5 256v2M120.5 580v6M121.5 610v7M122.5 254v6M122.5 585v4M123.5 246v7M123.5 600v4M124.5 260v1M124.5 607v12M125.5 253v4M125.5 589v1M126.5 236v8M126.5 600v7M127.5 257v14M127.5 598v7M128.5 236v6M128.5 605v2M129.5 667v1M130.5 244v14M130.5 605v4M131.5 256v4M131.5 591v24M132.5 233v12M132.5 606v2M133.5 590v1M134.5 251v10M134.5 293v1M134.5 599v3M135.5 232v7M135.5 586v14M136.5 257v1M136.5 572v1M137.5 248v1M137.5 585v5M138.5 250v1M138.5 608v3M139.5 245v2M139.5 290v1M140.5 230v4M140.5 588v9M141.5 238v1M141.5 608v4M142.5 222v33M142.5 590v8M143.5 257v4M143.5 600v2M144.5 262v2M144.5 600v1M145.5 225v14M145.5 588v1M146.5 242v10M146.5 583v12M147.5 248v1M147.5 560v2M148.5 215v3M148.5 581v1M149.5 610v1M150.5 245v1M150.5 609v2M151.5 233v7M151.5 575v6M152.5 207v24M152.5 585v1M153.5 583v4M154.5 577v12M155.5 252v15M155.5 571v9M156.5 233v3M156.5 595v3M157.5 184v37M157.5 572v16M158.5 230v19M158.5 590v2M159.5 243v1M159.5 591v1M160.5 586v2M161.5 172v7M162.5 221v6M162.5 574v13M163.5 219v9M163.5 596v5M164.5 182v17M164.5 584v3M165.5 553v9M166.5 221v1M166.5 554v5M167.5 206v8M167.5 590v1M167.5 665v1M168.5 217v6M168.5 543v1M168.5 666v1M169.5 183v13M169.5 558v1M170.5 223v5M170.5 573v9M171.5 230v1M171.5 573v3M172.5 566v11M173.5 189v28M173.5 536v8M174.5 211v1M174.5 559v8M174.5 667v1M175.5 217v3M175.5 292v1M175.5 546v4M176.5 216v1M176.5 556v1M177.5 149v5M177.5 572v17M178.5 168v1M178.5 666v1M179.5 200v3M179.5 535v4M180.5 172v17M180.5 542v1M181.5 152v1M181.5 292v1M181.5 539v1M182.5 183v4M182.5 666v1M183.5 292v1M183.5 530v9M183.5 665v1M184.5 143v23M184.5 533v15M185.5 158v1M185.5 535v1M186.5 152v1M186.5 537v3M186.5 665v1M187.5 184v1M187.5 530v16M188.5 554v2M189.5 149v22M190.5 157v5M190.5 505v5M191.5 135v12M192.5 158v4M193.5 110v19M194.5 175v1M195.5 124v1M195.5 636v7M196.5 148v1M196.5 638v1M196.5 668v1M197.5 123v16M198.5 140v26M198.5 631v14M199.5 155v14M199.5 645v3M200.5 636v4M201.5 162v15M202.5 118v13M202.5 292v1M202.5 646v1M203.5 644v2M204.5 158v8M204.5 651v1M205.5 131v11M205.5 650v1M206.5 139v32M206.5 636v1M207.5 644v3M207.5 668v1M208.5 183v13M208.5 647v3M208.5 668v1M209.5 183v11M209.5 290v1M209.5 648v2M209.5 668v1M210.5 162v11M211.5 651v3M212.5 180v1M212.5 654v3M212.5 668v1M213.5 654v2M214.5 128v28M214.5 654v3M215.5 185v1M215.5 656v1M215.5 668v1M216.5 202v1M217.5 169v9M217.5 292v1M218.5 187v1M218.5 656v2M219.5 193v1M219.5 651v4M220.5 133v2M221.5 152v1M221.5 293v1M221.5 655v1M221.5 668v1M222.5 172v3M222.5 655v1M223.5 652v2M224.5 173v6M225.5 171v15M225.5 659v1M227.5 205v1M227.5 660v1M228.5 200v12M228.5 656v1M229.5 206v20M229.5 656v3M230.5 659v1M231.5 194v3M231.5 292v1M231.5 658v1M231.5 668v1M232.5 203v1M232.5 661v1M233.5 201v4M234.5 182v21M234.5 655v2M234.5 668v1M235.5 217v7M235.5 662v1M236.5 293v1M237.5 186v36M238.5 661v1M239.5 199v1M240.5 199v2M240.5 661v1M242.5 250v1M242.5 658v3M244.5 211v11M244.5 661v1M245.5 209v5M245.5 662v2M246.5 230v7M247.5 207v4M247.5 661v1M247.5 669v1M248.5 215v20M249.5 220v13M249.5 292v1M249.5 661v1M251.5 231v7M251.5 665v1M252.5 224v3M252.5 663v1M253.5 234v5M254.5 224v1M254.5 662v1M255.5 241v18M256.5 243v18M256.5 660v3M258.5 236v2M258.5 669v1M259.5 234v11M260.5 232v17M261.5 242v7M261.5 664v1M262.5 664v1M264.5 250v8M265.5 295v1M265.5 665v1M265.5 669v1M266.5 253v3M267.5 249v8M267.5 663v1M268.5 264v1M268.5 664v1M270.5 664v1M271.5 250v4M271.5 666v1M273.5 272v8M273.5 663v1M274.5 262v6M276.5 255v16M278.5 272v1M280.5 259v4M280.5 667v1M281.5 261v2M281.5 669v1M282.5 258v4M282.5 296v1M282.5 665v2M283.5 270v3M283.5 666v1M284.5 666v1M285.5 272v2M286.5 259v1M286.5 295v1M286.5 667v1M287.5 264v1M287.5 669v1M288.5 665v1M289.5 265v9M290.5 271v1M290.5 666v1M291.5 272v5M292.5 270v1M292.5 666v1M293.5 271v3M294.5 270v1M294.5 292v1M295.5 269v1M296.5 666v1M297.5 265v3M298.5 273v1M298.5 666v1M298.5 669v1M299.5 669v1M300.5 277v3M300.5 669v1M301.5 666v1M302.5 279v2M302.5 667v1M302.5 669v1M303.5 269v1M304.5 269v2M305.5 275v5M306.5 276v4M306.5 667v1M307.5 274v1M308.5 267v1M309.5 294v1M310.5 669v1M311.5 273v1M312.5 271v1M313.5 282v1M313.5 667v1M316.5 295v1M317.5 273v1M318.5 668v2M320.5 277v2M320.5 295v1M320.5 669v1M321.5 277v1M322.5 282v1M322.5 667v1M323.5 273v4M323.5 667v1M324.5 274v4M324.5 668v1M325.5 272v3M326.5 278v1M327.5 278v3M328.5 668v1M329.5 668v1M330.5 282v2M331.5 282v4M331.5 667v1M332.5 279v3M334.5 280v1M334.5 296v1M335.5 282v1M335.5 668v1M336.5 280v2M337.5 668v1M338.5 670v1M463.5 294v1M465.5 264v11M466.5 241v2M466.5 299v1M468.5 186v8M469.5 182v4M470.5 149v28M471.5 105v13M472.5 296v1M473.5 159v1M473.5 295v1M475.5 128v6M476.5 147v11M476.5 294v1M476.5 670v2M477.5 166v6M478.5 149v2M478.5 293v1M478.5 659v1M479.5 127v49M479.5 659v1M480.5 169v10M482.5 178v9M482.5 294v1M483.5 189v1M483.5 294v1M483.5 655v1M484.5 175v5M484.5 656v1M484.5 671v1M486.5 183v7M487.5 209v1M487.5 651v2M488.5 202v3M489.5 209v6M490.5 212v2M491.5 224v7M491.5 652v3M492.5 235v1M492.5 433v23M492.5 669v1M493.5 225v8M493.5 463v12M494.5 231v2M494.5 296v1M494.5 487v7M495.5 245v2M495.5 508v1M496.5 237v1M496.5 509v5M497.5 296v1M497.5 529v3M498.5 251v4M498.5 557v6M499.5 557v2M500.5 255v1M501.5 251v9M501.5 577v1M502.5 249v10M503.5 257v3M504.5 256v5M504.5 602v3M505.5 603v11M506.5 263v1M506.5 566v11M507.5 252v4M507.5 604v16M508.5 614v3M509.5 253v5M509.5 615v3M509.5 665v1M510.5 250v10M510.5 595v5M511.5 265v1M511.5 608v14M511.5 666v1M512.5 266v1M512.5 616v2M513.5 254v7M513.5 617v1M514.5 261v2M514.5 599v18M515.5 268v1M515.5 621v3M516.5 297v1M516.5 616v1M517.5 271v1M518.5 268v1M518.5 636v1M519.5 274v3M520.5 270v1M520.5 637v1M521.5 276v6M521.5 630v11M522.5 278v1M522.5 619v1M523.5 259v2M523.5 666v1M524.5 270v7M525.5 267v8M525.5 632v5M526.5 270v1M526.5 632v2M527.5 277v1M527.5 638v5M528.5 274v7M528.5 642v2M529.5 280v1M529.5 632v2M530.5 281v5M531.5 276v1M531.5 298v1M531.5 643v6M532.5 278v2M532.5 646v2M533.5 262v10M533.5 652v1M534.5 281v1M534.5 650v1M534.5 667v1M535.5 274v1M535.5 641v1M536.5 282v3M536.5 647v4M536.5 667v1M537.5 276v1M537.5 647v2M538.5 279v2M538.5 654v2M539.5 273v1M539.5 651v3M539.5 667v1M540.5 650v1M541.5 279v3M541.5 654v1M542.5 269v3M542.5 654v1M543.5 261v10M544.5 271v1M544.5 649v1M545.5 273v2M545.5 654v1M545.5 668v1M546.5 281v1M547.5 266v3M548.5 273v2M548.5 654v1M550.5 268v2M550.5 298v1M550.5 656v1M551.5 278v1M551.5 657v1M552.5 257v1M552.5 298v1M553.5 261v1M553.5 668v1M554.5 263v1M554.5 654v3M555.5 298v1M555.5 656v1M556.5 275v2M557.5 253v7M557.5 657v2M558.5 265v7M559.5 270v1M560.5 277v1M560.5 660v1M561.5 275v4M561.5 298v1M561.5 659v1M562.5 265v2M562.5 298v1M563.5 298v1M563.5 659v1M564.5 258v4M564.5 298v1M564.5 669v1M565.5 280v1M565.5 661v1M566.5 269v1M566.5 662v1M567.5 275v1M567.5 660v1M568.5 270v7M568.5 660v1M569.5 267v4M569.5 660v1M570.5 266v1M570.5 660v1M571.5 269v1M572.5 262v9M573.5 298v1M573.5 660v1M574.5 262v1M575.5 267v5M576.5 298v1M576.5 662v1M577.5 298v1M578.5 298v1M578.5 658v1M579.5 268v1M580.5 259v3M581.5 266v1M581.5 669v1M583.5 260v2M583.5 662v1M584.5 274v1M584.5 660v1M585.5 262v1M585.5 669v1M586.5 662v1M587.5 250v3M587.5 298v1M588.5 257v2M588.5 298v1M589.5 663v1M590.5 274v8M591.5 256v6M591.5 663v1M592.5 261v1M593.5 664v1M594.5 252v1M594.5 662v1M594.5 669v1M595.5 254v1M595.5 661v2M596.5 259v1M596.5 665v1M597.5 252v1M598.5 244v3M598.5 669v1M600.5 264v11M600.5 669v1M601.5 243v1M601.5 664v1M602.5 246v12M602.5 298v1M602.5 665v1M603.5 250v1M604.5 243v1M604.5 666v1M605.5 257v8M606.5 253v1M607.5 248v2M608.5 246v1M609.5 246v9M610.5 239v7M611.5 261v1M611.5 298v1M612.5 264v2M612.5 665v1M613.5 246v2M613.5 669v1M614.5 222v6M614.5 666v1M615.5 264v1M616.5 233v3M617.5 252v3M618.5 298v1M619.5 237v4M619.5 669v1M620.5 235v2M621.5 237v6M621.5 665v1M621.5 669v1M622.5 236v7M622.5 298v1M623.5 245v1M623.5 666v1M623.5 669v1M624.5 240v5M625.5 256v1M625.5 666v1M626.5 298v1M627.5 241v7M627.5 298v1M628.5 248v1M629.5 238v1M629.5 298v1M629.5 667v1M630.5 222v6M630.5 298v1M631.5 227v9M632.5 235v3M632.5 666v1M633.5 237v5M634.5 223v16M634.5 298v1M634.5 666v1M636.5 228v16M637.5 240v1M638.5 253v1M639.5 260v3M639.5 665v1M640.5 256v1M641.5 237v2M642.5 241v4M642.5 665v1M642.5 669v1M643.5 237v14M644.5 256v4M644.5 669v1M645.5 245v1M647.5 231v13M647.5 298v1M647.5 668v1M648.5 253v1M649.5 240v2M649.5 298v1M650.5 263v1M652.5 243v1M655.5 298v1M656.5 246v1M657.5 264v1M657.5 667v1M658.5 254v3M658.5 669v1M659.5 251v11M659.5 669v1M660.5 256v3M661.5 255v3M661.5 298v1M662.5 260v1M663.5 270v1M664.5 259v7M664.5 669v1M665.5 298v1M665.5 667v1M666.5 253v1M666.5 667v1M667.5 255v1M668.5 265v2M668.5 298v1M668.5 669v1M669.5 264v1M670.5 265v3M671.5 256v2M671.5 298v1M672.5 668v2M673.5 269v1M675.5 257v6M676.5 270v1M677.5 258v2M677.5 667v1M678.5 265v1M678.5 666v1M679.5 264v7M680.5 298v1M682.5 272v5M683.5 273v2M684.5 268v8M684.5 668v1M685.5 669v1M686.5 264v4M686.5 667v1M687.5 262v4M687.5 668v1M688.5 281v3M688.5 668v1M689.5 280v1M693.5 298v1M694.5 272v1M694.5 668v1M695.5 273v1M695.5 667v1M696.5 298v1M697.5 266v2M699.5 270v1M700.5 272v2M701.5 283v1M701.5 669v1M702.5 279v2M702.5 298v1M702.5 669v1M703.5 281v5M704.5 278v8M705.5 277v2M706.5 283v4M707.5 274v1M708.5 278v1M709.5 275v1M709.5 298v1M709.5 669v1M710.5 286v1M712.5 298v1M713.5 668v1M715.5 280v4M716.5 284v1M716.5 669v1M717.5 284v1M717.5 668v1M718.5 277v5M718.5 668v1M719.5 277v1M720.5 281v4M721.5 288v1M721.5 668v1M721.5 670v1M722.5 279v1M724.5 277v4M726.5 286v1M727.5 289v2M728.5 287v1M729.5 285v4"/>
<path stroke="rgb(64,64,64)" stroke-width="1" fill="none" shape-rendering="crispEdges" d="M71.5 667v1M71.5 670v1M72.5 670v1M74.5 658v1M75.5 656v1M77.5 650v1M80.5 639v4M81.5 636v3M82.5 634v1M82.5 668v1M83.5 623v2M85.5 623v3M86.5 627v5M88.5 620v1M89.5 621v14M90.5 613v3M91.5 299v1M91.5 616v2M92.5 605v4M93.5 632v2M94.5 610v13M95.5 630v2M96.5 623v1M97.5 620v5M97.5 665v1M98.5 286v1M98.5 618v4M99.5 290v1M99.5 620v3M100.5 283v1M100.5 621v2M101.5 618v2M102.5 616v12M103.5 284v2M103.5 620v4M104.5 273v3M104.5 607v2M105.5 605v5M105.5 667v1M106.5 280v1M106.5 599v3M107.5 629v3M108.5 271v2M108.5 624v3M109.5 275v4M109.5 620v2M110.5 277v1M110.5 609v2M111.5 281v6M111.5 602v6M112.5 271v1M112.5 607v5M113.5 275v2M113.5 614v4M114.5 258v3M115.5 265v1M115.5 600v15M115.5 667v1M116.5 262v3M116.5 608v2M117.5 602v1M118.5 267v1M118.5 591v1M119.5 275v1M119.5 602v4M120.5 586v4M121.5 268v1M121.5 617v7M122.5 260v3M122.5 294v1M122.5 589v2M123.5 253v2M123.5 604v15M124.5 261v2M124.5 619v2M125.5 257v12M125.5 294v1M125.5 590v11M125.5 666v1M126.5 244v11M126.5 607v2M127.5 605v4M127.5 666v1M128.5 242v3M128.5 607v7M129.5 245v3M129.5 600v5M130.5 258v7M130.5 293v1M130.5 609v1M131.5 260v6M131.5 294v1M131.5 615v5M132.5 245v10M132.5 608v1M133.5 251v1M133.5 288v1M133.5 591v10M133.5 666v1M134.5 261v10M134.5 602v1M135.5 239v9M135.5 600v8M136.5 258v2M136.5 573v8M137.5 249v5M137.5 295v1M137.5 590v4M138.5 251v10M138.5 611v6M139.5 247v6M139.5 570v17M140.5 234v9M140.5 597v9M141.5 239v7M141.5 612v4M142.5 598v2M143.5 261v2M143.5 602v2M144.5 601v13M145.5 239v3M145.5 589v9M146.5 252v4M146.5 294v1M146.5 595v4M147.5 249v6M147.5 295v1M147.5 562v18M148.5 218v23M148.5 582v6M149.5 214v17M149.5 611v5M150.5 246v3M150.5 291v1M150.5 611v4M151.5 240v1M151.5 581v1M152.5 231v19M152.5 586v2M153.5 248v1M153.5 587v1M153.5 666v1M154.5 247v2M154.5 589v2M155.5 294v1M155.5 580v6M156.5 236v9M156.5 598v2M156.5 665v1M157.5 221v9M157.5 588v1M158.5 249v13M158.5 592v4M159.5 244v4M159.5 592v5M160.5 189v6M160.5 588v3M161.5 179v4M161.5 579v7M162.5 227v6M162.5 587v1M163.5 228v7M163.5 295v1M163.5 601v12M164.5 199v23M164.5 587v14M165.5 203v31M165.5 562v13M166.5 293v1M166.5 559v4M166.5 666v1M167.5 214v1M167.5 591v5M168.5 544v10M169.5 196v5M169.5 559v1M170.5 228v1M170.5 582v3M171.5 576v11M172.5 165v40M172.5 577v6M172.5 665v1M173.5 217v6M173.5 288v1M173.5 544v13M174.5 212v7M174.5 567v10M175.5 220v17M176.5 217v34M176.5 557v15M177.5 154v16M177.5 589v1M178.5 169v17M178.5 551v4M179.5 203v1M179.5 539v3M180.5 189v9M180.5 543v4M181.5 153v20M181.5 540v14M181.5 666v1M182.5 187v9M182.5 562v5M183.5 148v10M183.5 539v4M184.5 548v15M185.5 159v19M185.5 536v6M186.5 153v11M186.5 540v6M187.5 185v11M187.5 546v11M188.5 159v4M188.5 556v13M188.5 665v1M189.5 171v1M189.5 520v12M189.5 666v1M190.5 162v1M190.5 291v1M190.5 510v16M191.5 147v1M192.5 162v23M192.5 551v1M193.5 129v4M193.5 638v1M194.5 176v1M194.5 631v1M195.5 291v1M195.5 667v1M196.5 149v30M196.5 639v6M197.5 139v19M197.5 648v1M198.5 166v5M198.5 645v2M199.5 648v1M200.5 148v17M200.5 640v1M201.5 177v1M201.5 291v1M201.5 641v9M202.5 131v20M202.5 647v3M203.5 115v26M203.5 646v5M203.5 668v1M204.5 166v5M204.5 652v1M205.5 142v4M206.5 171v5M206.5 637v4M207.5 153v1M207.5 647v2M208.5 196v1M208.5 650v1M209.5 194v10M209.5 650v7M210.5 173v1M210.5 649v2M211.5 654v1M212.5 181v33M212.5 657v2M213.5 139v33M213.5 668v1M214.5 156v1M214.5 657v1M215.5 186v41M215.5 287v1M215.5 657v1M216.5 203v7M216.5 658v1M217.5 178v10M217.5 655v1M218.5 188v4M218.5 658v1M218.5 668v1M219.5 194v1M219.5 655v2M220.5 135v16M220.5 290v1M220.5 659v2M221.5 153v1M221.5 656v1M222.5 175v11M222.5 656v2M222.5 668v1M223.5 192v6M223.5 654v2M223.5 668v1M224.5 179v16M224.5 658v1M225.5 186v1M225.5 668v1M226.5 197v8M226.5 660v1M227.5 206v4M227.5 661v1M228.5 657v2M228.5 668v1M229.5 226v2M229.5 659v1M230.5 239v1M230.5 292v1M230.5 660v1M230.5 668v1M231.5 197v3M231.5 659v3M232.5 204v15M233.5 205v1M233.5 661v1M234.5 203v3M234.5 657v4M235.5 224v2M236.5 198v16M236.5 659v1M237.5 222v22M237.5 660v1M238.5 203v7M239.5 200v19M239.5 662v1M240.5 201v2M241.5 204v27M241.5 662v1M242.5 661v2M243.5 213v1M243.5 661v1M244.5 222v4M244.5 291v1M245.5 214v14M246.5 237v5M246.5 664v1M247.5 211v3M247.5 662v1M248.5 235v3M248.5 662v1M249.5 662v1M252.5 227v21M252.5 289v1M253.5 239v5M254.5 225v23M254.5 663v1M255.5 259v11M256.5 261v3M256.5 663v2M257.5 237v20M257.5 664v1M257.5 669v1M258.5 238v7M258.5 295v1M259.5 245v10M260.5 665v1M261.5 249v5M262.5 294v1M262.5 665v1M262.5 669v1M263.5 663v1M263.5 669v1M264.5 258v1M264.5 295v1M265.5 254v21M266.5 256v1M266.5 669v1M267.5 257v1M267.5 669v1M268.5 665v1M268.5 669v1M269.5 253v1M270.5 256v6M270.5 294v1M270.5 665v1M271.5 254v5M271.5 292v1M272.5 257v5M272.5 296v1M272.5 669v1M273.5 280v4M273.5 664v2M273.5 669v1M274.5 268v1M275.5 283v1M276.5 271v1M276.5 666v1M277.5 258v11M277.5 293v1M277.5 663v2M278.5 273v5M280.5 263v7M280.5 296v1M281.5 263v1M282.5 262v1M284.5 265v1M285.5 667v1M285.5 669v1M286.5 260v3M286.5 669v1M287.5 265v1M287.5 666v1M288.5 669v1M289.5 274v1M289.5 666v1M290.5 272v4M291.5 667v1M291.5 669v1M293.5 274v1M293.5 666v1M294.5 271v2M295.5 270v3M296.5 276v5M296.5 667v2M297.5 268v1M297.5 666v1M298.5 274v3M299.5 667v1M300.5 667v2M301.5 273v1M303.5 270v2M304.5 271v2M305.5 280v1M305.5 667v2M306.5 668v1M307.5 667v1M308.5 268v6M309.5 282v1M310.5 280v1M310.5 293v1M311.5 274v6M312.5 272v3M313.5 283v1M314.5 296v1M315.5 274v1M316.5 288v1M316.5 668v1M317.5 274v4M318.5 277v3M318.5 294v1M319.5 668v1M320.5 279v2M321.5 667v1M322.5 283v1M323.5 277v1M324.5 278v1M325.5 275v3M326.5 668v1M329.5 274v5M330.5 284v1M332.5 282v1M333.5 668v1M334.5 281v1M336.5 282v3M337.5 283v1M338.5 278v5M339.5 283v1M339.5 296v1M339.5 668v1M463.5 295v1M464.5 281v1M465.5 275v4M466.5 243v5M468.5 194v4M469.5 186v11M470.5 177v9M471.5 118v37M472.5 129v5M473.5 160v3M474.5 148v13M474.5 668v1M475.5 134v9M476.5 158v1M477.5 172v14M477.5 668v1M477.5 670v1M478.5 151v6M478.5 660v1M479.5 176v1M479.5 670v1M480.5 179v3M480.5 657v2M481.5 140v32M481.5 657v1M482.5 187v9M482.5 658v1M483.5 190v1M483.5 656v3M484.5 180v7M485.5 178v24M485.5 657v1M486.5 190v3M486.5 655v3M487.5 210v4M487.5 295v1M487.5 653v1M488.5 205v1M488.5 653v2M489.5 215v1M490.5 214v2M490.5 651v2M491.5 295v1M492.5 236v1M492.5 456v11M493.5 233v1M493.5 475v4M494.5 233v2M494.5 494v4M495.5 247v2M495.5 296v1M496.5 238v1M496.5 296v1M496.5 514v6M497.5 258v1M497.5 532v3M498.5 255v1M498.5 563v1M499.5 249v2M499.5 559v1M500.5 256v3M501.5 260v2M501.5 578v1M502.5 259v1M502.5 583v4M502.5 662v1M503.5 260v2M503.5 581v13M503.5 663v1M504.5 261v3M504.5 297v1M504.5 605v10M505.5 614v1M506.5 264v3M506.5 297v1M506.5 577v5M507.5 256v2M508.5 259v2M508.5 297v1M508.5 617v2M508.5 665v1M509.5 258v5M509.5 297v1M509.5 618v8M510.5 260v1M510.5 600v14M511.5 266v1M511.5 297v1M511.5 622v2M512.5 267v1M512.5 297v1M512.5 618v2M513.5 261v11M513.5 618v9M514.5 263v2M514.5 617v6M515.5 269v2M515.5 624v4M516.5 277v3M516.5 617v3M517.5 272v3M517.5 607v14M518.5 269v1M518.5 297v1M518.5 637v2M519.5 277v1M519.5 635v3M520.5 271v1M520.5 638v6M521.5 641v9M522.5 279v1M522.5 620v11M523.5 261v5M523.5 635v5M524.5 277v3M524.5 667v1M525.5 275v1M525.5 637v4M526.5 271v4M526.5 634v6M527.5 278v1M527.5 298v1M527.5 643v2M528.5 281v1M528.5 644v2M529.5 634v2M529.5 666v1M530.5 640v6M530.5 667v1M531.5 277v1M531.5 649v1M532.5 648v4M532.5 666v1M533.5 272v5M533.5 653v2M535.5 275v9M535.5 642v2M536.5 285v3M536.5 651v3M537.5 277v4M537.5 298v1M537.5 649v4M538.5 281v3M538.5 656v1M539.5 274v1M539.5 654v1M540.5 280v3M540.5 651v2M541.5 655v1M542.5 272v1M542.5 655v5M543.5 271v2M543.5 649v6M544.5 272v2M544.5 650v1M544.5 668v1M545.5 298v1M545.5 655v2M546.5 282v2M546.5 652v1M547.5 269v2M547.5 651v2M547.5 668v1M548.5 275v1M548.5 655v3M549.5 275v1M549.5 661v1M550.5 270v7M551.5 279v2M551.5 298v1M551.5 658v2M552.5 258v10M552.5 655v1M553.5 262v12M553.5 298v1M553.5 656v1M554.5 264v8M554.5 657v2M555.5 275v5M555.5 657v1M556.5 277v1M556.5 658v2M557.5 260v12M557.5 659v1M558.5 298v1M558.5 659v1M559.5 271v2M559.5 298v1M559.5 656v1M560.5 278v3M560.5 668v1M561.5 279v1M562.5 267v11M563.5 263v2M564.5 262v4M565.5 662v1M566.5 270v3M566.5 298v1M566.5 668v1M567.5 276v1M568.5 277v4M569.5 271v5M569.5 661v1M570.5 668v1M572.5 271v2M573.5 254v16M573.5 661v1M574.5 263v8M575.5 298v1M575.5 665v1M576.5 278v1M576.5 663v2M577.5 279v3M577.5 659v1M578.5 257v5M579.5 269v5M579.5 298v1M579.5 662v1M579.5 668v1M580.5 262v9M581.5 267v6M581.5 298v1M581.5 662v1M582.5 282v1M582.5 663v1M583.5 262v1M583.5 663v1M583.5 668v1M584.5 275v2M584.5 661v1M584.5 669v1M585.5 263v1M585.5 664v1M586.5 270v6M586.5 298v1M586.5 663v1M587.5 253v14M587.5 664v1M588.5 259v7M588.5 662v2M589.5 298v1M590.5 282v1M591.5 262v4M591.5 298v1M591.5 664v1M592.5 262v4M592.5 298v1M592.5 664v1M593.5 249v1M593.5 665v1M594.5 253v8M594.5 663v1M595.5 255v2M595.5 663v1M596.5 260v7M598.5 247v8M598.5 666v1M600.5 275v1M601.5 244v13M602.5 258v2M603.5 251v1M603.5 298v1M603.5 665v1M603.5 669v1M604.5 244v10M605.5 265v1M606.5 254v1M607.5 250v9M607.5 298v1M608.5 247v5M608.5 666v1M609.5 255v3M610.5 246v15M611.5 262v3M611.5 665v1M612.5 266v1M613.5 248v1M613.5 298v1M613.5 665v1M614.5 228v2M615.5 265v2M615.5 298v1M615.5 667v1M616.5 236v22M616.5 298v1M617.5 255v2M618.5 233v1M619.5 241v6M619.5 298v1M619.5 665v1M620.5 237v3M620.5 298v1M620.5 666v1M620.5 669v1M621.5 243v11M621.5 298v1M623.5 246v1M624.5 245v1M624.5 666v1M624.5 669v1M625.5 257v1M626.5 228v1M627.5 248v3M628.5 249v4M628.5 668v1M629.5 239v3M630.5 228v13M630.5 667v1M631.5 236v3M631.5 667v1M632.5 238v3M633.5 242v5M634.5 239v7M635.5 257v7M636.5 244v3M637.5 241v5M638.5 254v4M638.5 298v1M639.5 298v1M640.5 667v1M641.5 239v3M641.5 298v1M641.5 669v1M642.5 245v5M642.5 298v1M643.5 251v6M643.5 298v1M643.5 667v1M644.5 260v1M644.5 667v1M645.5 246v4M646.5 263v1M646.5 298v1M647.5 244v1M647.5 669v1M648.5 254v8M649.5 242v4M649.5 668v2M650.5 264v1M650.5 298v1M650.5 666v1M650.5 669v1M651.5 254v5M651.5 298v1M651.5 669v1M652.5 244v7M652.5 667v1M652.5 669v1M653.5 252v11M654.5 261v6M656.5 247v9M657.5 265v2M658.5 257v1M659.5 262v6M659.5 298v1M660.5 259v4M661.5 258v3M661.5 669v1M662.5 261v3M663.5 271v6M663.5 298v1M663.5 669v1M664.5 266v4M664.5 668v1M665.5 273v1M665.5 668v2M666.5 254v6M666.5 298v1M667.5 256v2M667.5 667v1M669.5 265v3M670.5 268v3M670.5 667v1M671.5 258v3M672.5 268v4M672.5 298v1M673.5 270v1M675.5 263v3M676.5 271v2M677.5 260v4M678.5 266v4M678.5 298v1M679.5 271v3M679.5 298v1M679.5 669v1M680.5 273v2M681.5 264v9M681.5 298v1M682.5 277v1M682.5 298v1M683.5 275v1M683.5 666v1M684.5 276v1M684.5 298v1M686.5 268v4M687.5 266v6M687.5 298v1M688.5 284v1M688.5 669v1M690.5 284v1M691.5 283v1M691.5 668v1M692.5 270v1M692.5 668v1M693.5 280v5M694.5 273v7M695.5 274v2M695.5 298v1M696.5 274v1M697.5 268v10M697.5 298v1M698.5 282v1M698.5 298v1M698.5 667v1M699.5 271v1M700.5 668v1M701.5 284v1M701.5 298v1M702.5 281v2M703.5 298v1M704.5 286v1M705.5 279v1M706.5 669v1M707.5 275v1M707.5 298v1M708.5 279v3M709.5 276v4M709.5 668v1M710.5 287v2M711.5 280v1M711.5 669v1M712.5 274v4M713.5 278v1M715.5 284v2M715.5 298v1M716.5 285v1M716.5 298v1M717.5 285v1M717.5 298v1M718.5 282v3M719.5 278v4M719.5 668v1M720.5 285v4M720.5 668v1M721.5 289v1M722.5 280v2M723.5 282v1M724.5 281v1M724.5 298v1M725.5 298v1M725.5 669v1M726.5 287v1M726.5 669v1M727.5 291v1M727.5 298v1M728.5 669v1M729.5 289v3M729.5 670v1"/>
<path stroke="rgb(31,31,31)" stroke-width="1" fill="none" shape-rendering="crispEdges" d="M72.5 661v2M74.5 659v1M75.5 657v1M76.5 645v4M78.5 646v2M79.5 629v2M79.5 668v1M81.5 639v1M82.5 635v4M83.5 625v2M84.5 627v5M85.5 626v7M86.5 632v4M88.5 621v7M89.5 635v5M90.5 616v3M91.5 292v1M91.5 618v8M92.5 609v6M93.5 291v1M93.5 634v1M94.5 291v1M94.5 623v9M95.5 632v2M96.5 284v1M96.5 624v5M97.5 625v2M98.5 622v5M98.5 666v1M99.5 623v1M100.5 284v1M100.5 623v1M101.5 282v4M101.5 620v5M102.5 628v2M102.5 666v1M103.5 286v3M103.5 624v4M104.5 276v5M104.5 609v6M105.5 279v2M105.5 610v5M106.5 281v2M106.5 602v12M107.5 278v1M107.5 632v3M108.5 273v1M109.5 622v1M110.5 278v2M110.5 611v8M111.5 287v1M111.5 608v4M112.5 272v3M112.5 612v5M113.5 618v9M114.5 261v12M114.5 617v1M115.5 266v6M115.5 615v4M116.5 265v3M116.5 610v4M117.5 295v1M117.5 603v12M118.5 268v2M118.5 592v5M119.5 606v2M120.5 258v12M120.5 590v17M121.5 624v3M122.5 263v2M122.5 591v13M123.5 255v14M123.5 619v4M123.5 666v1M124.5 263v14M124.5 621v7M125.5 269v2M125.5 601v2M126.5 255v15M126.5 609v2M127.5 271v1M127.5 609v9M128.5 245v10M128.5 614v2M129.5 248v8M129.5 605v1M130.5 610v10M131.5 266v3M131.5 620v5M131.5 666v1M132.5 255v8M132.5 609v3M133.5 252v5M133.5 601v9M134.5 271v4M135.5 248v29M135.5 608v7M136.5 260v4M136.5 293v1M136.5 581v2M137.5 254v11M137.5 594v6M138.5 261v7M138.5 617v3M139.5 253v13M139.5 587v5M139.5 665v1M140.5 243v3M140.5 606v13M141.5 246v27M141.5 616v6M142.5 255v5M142.5 294v1M142.5 600v8M143.5 263v11M143.5 295v1M143.5 604v7M144.5 294v1M144.5 614v5M145.5 242v8M145.5 598v7M146.5 256v5M146.5 599v2M147.5 255v11M147.5 580v12M148.5 241v8M148.5 588v7M149.5 231v14M149.5 616v6M150.5 249v8M150.5 615v1M151.5 241v3M151.5 294v1M151.5 582v12M152.5 250v9M152.5 588v6M153.5 249v14M153.5 588v4M154.5 249v8M154.5 591v14M155.5 267v1M155.5 586v9M156.5 245v1M156.5 600v3M157.5 230v12M157.5 589v14M158.5 262v8M159.5 248v2M159.5 597v1M160.5 195v30M160.5 591v10M160.5 666v1M161.5 183v6M161.5 586v2M162.5 233v3M162.5 588v14M162.5 666v1M163.5 235v4M163.5 613v5M164.5 222v8M165.5 234v6M165.5 575v18M166.5 222v6M166.5 563v8M167.5 215v14M168.5 223v13M168.5 554v11M169.5 201v38M169.5 560v5M170.5 229v1M170.5 292v1M170.5 585v8M171.5 231v5M171.5 587v9M172.5 205v10M172.5 583v1M173.5 223v10M173.5 557v4M174.5 577v1M175.5 237v1M175.5 550v11M175.5 665v1M176.5 572v17M177.5 170v23M177.5 292v1M177.5 590v5M178.5 186v1M178.5 555v17M179.5 204v1M179.5 294v1M179.5 542v20M180.5 198v8M180.5 547v8M181.5 173v29M181.5 554v9M182.5 196v5M182.5 293v1M182.5 567v1M183.5 158v5M183.5 543v8M184.5 166v15M184.5 563v4M185.5 178v12M185.5 542v4M186.5 164v6M186.5 546v31M187.5 557v13M188.5 163v4M188.5 569v4M189.5 172v16M189.5 532v15M190.5 163v13M190.5 526v18M191.5 148v25M192.5 185v2M192.5 552v1M192.5 667v1M193.5 133v9M193.5 639v2M194.5 177v2M194.5 632v9M195.5 125v27M195.5 643v1M196.5 179v1M197.5 158v35M198.5 171v3M198.5 647v3M198.5 668v1M199.5 649v3M199.5 667v1M200.5 165v5M200.5 641v6M200.5 668v1M201.5 650v1M202.5 151v22M202.5 650v2M202.5 668v1M203.5 141v13M203.5 651v3M204.5 171v29M205.5 146v37M205.5 651v4M206.5 176v11M206.5 641v8M207.5 154v16M207.5 649v4M208.5 651v3M209.5 657v1M210.5 651v4M211.5 213v1M212.5 214v6M212.5 659v1M213.5 172v28M213.5 293v1M213.5 656v1M214.5 157v9M214.5 293v1M214.5 658v1M215.5 227v7M216.5 210v1M217.5 188v7M217.5 656v1M218.5 192v15M218.5 659v1M219.5 195v12M219.5 657v3M220.5 151v58M220.5 661v1M220.5 668v1M221.5 154v18M222.5 186v20M222.5 658v1M223.5 198v9M223.5 656v3M224.5 195v16M224.5 659v1M224.5 668v1M225.5 187v12M225.5 293v1M226.5 205v22M226.5 668v1M227.5 210v6M227.5 293v1M228.5 212v1M228.5 659v3M229.5 228v1M229.5 292v1M229.5 660v1M230.5 661v1M231.5 200v17M232.5 219v13M233.5 206v25M233.5 662v1M234.5 206v18M234.5 293v1M235.5 226v21M236.5 214v2M236.5 660v2M236.5 668v1M237.5 661v1M238.5 210v7M238.5 662v1M239.5 219v2M239.5 663v1M240.5 203v9M240.5 662v1M241.5 663v1M241.5 668v1M242.5 251v1M242.5 663v1M243.5 214v15M243.5 291v1M243.5 662v1M244.5 226v1M244.5 662v3M245.5 228v13M245.5 668v1M246.5 242v8M246.5 665v1M246.5 668v1M247.5 214v19M247.5 663v1M248.5 238v1M248.5 290v1M248.5 663v1M249.5 233v6M249.5 663v1M250.5 216v12M250.5 664v1M251.5 238v7M252.5 248v5M253.5 244v8M253.5 665v1M254.5 248v5M254.5 664v1M255.5 664v1M256.5 264v1M256.5 295v1M257.5 257v9M257.5 665v1M258.5 245v7M258.5 666v1M259.5 255v1M259.5 292v1M259.5 665v1M260.5 249v1M261.5 254v1M262.5 666v1M263.5 258v1M263.5 664v1M264.5 259v2M264.5 665v1M265.5 275v1M265.5 666v1M266.5 257v14M266.5 666v1M267.5 258v1M267.5 294v1M267.5 664v1M268.5 265v3M269.5 254v7M269.5 665v1M270.5 262v9M271.5 259v6M272.5 262v4M273.5 284v1M273.5 666v1M274.5 269v4M274.5 294v1M274.5 669v1M275.5 666v1M277.5 269v1M277.5 665v1M278.5 278v1M278.5 666v1M279.5 281v1M279.5 665v1M279.5 669v1M280.5 270v1M281.5 264v10M281.5 666v1M282.5 263v4M282.5 669v1M284.5 266v5M286.5 263v7M286.5 668v1M287.5 266v2M289.5 275v1M290.5 276v3M290.5 293v1M291.5 277v1M291.5 293v1M292.5 667v1M293.5 275v7M294.5 273v4M294.5 669v1M295.5 273v4M295.5 295v1M295.5 667v1M295.5 669v1M296.5 669v1M298.5 277v1M298.5 667v1M299.5 271v2M300.5 280v1M301.5 274v2M301.5 667v1M301.5 669v1M302.5 281v1M303.5 667v1M304.5 273v5M306.5 280v1M308.5 667v1M308.5 669v1M309.5 667v1M310.5 281v1M310.5 667v1M311.5 280v1M311.5 669v1M312.5 668v1M313.5 284v1M313.5 668v1M314.5 271v1M314.5 667v1M315.5 275v2M315.5 668v1M317.5 278v3M317.5 295v1M318.5 280v3M319.5 278v1M319.5 669v1M320.5 281v6M321.5 278v1M321.5 668v1M323.5 278v1M324.5 279v1M325.5 278v7M325.5 669v1M326.5 295v1M326.5 669v1M327.5 281v1M327.5 668v1M328.5 283v1M328.5 296v1M329.5 279v2M330.5 668v1M331.5 286v1M332.5 668v1M333.5 282v1M334.5 282v1M335.5 295v1M336.5 285v1M338.5 283v2M338.5 296v1M339.5 284v1M463.5 296v1M464.5 282v1M464.5 298v1M465.5 279v1M466.5 248v1M467.5 232v1M467.5 299v1M468.5 198v4M469.5 197v5M470.5 186v9M470.5 297v1M471.5 155v29M472.5 134v30M473.5 163v15M474.5 161v11M474.5 669v1M475.5 143v32M475.5 670v1M476.5 159v10M477.5 186v3M477.5 669v1M478.5 157v12M478.5 661v1M478.5 670v1M479.5 177v7M479.5 660v1M480.5 182v4M480.5 659v1M481.5 172v3M482.5 196v1M482.5 659v1M483.5 191v4M483.5 659v1M484.5 187v7M484.5 657v1M485.5 202v1M485.5 658v1M486.5 193v2M487.5 214v2M487.5 654v2M488.5 206v6M488.5 655v1M488.5 670v1M489.5 655v1M490.5 216v5M490.5 295v1M490.5 653v1M491.5 231v1M491.5 655v1M491.5 670v1M492.5 237v2M492.5 467v49M493.5 234v2M493.5 479v13M494.5 235v1M494.5 498v7M494.5 663v1M495.5 249v3M495.5 509v3M495.5 660v1M496.5 239v7M496.5 520v10M496.5 661v1M497.5 259v1M497.5 535v8M499.5 251v4M499.5 296v1M499.5 560v4M500.5 296v1M500.5 586v1M501.5 262v3M501.5 579v11M502.5 260v7M502.5 587v6M503.5 262v2M503.5 297v1M503.5 594v7M504.5 264v2M504.5 615v1M505.5 296v1M506.5 267v1M506.5 582v27M507.5 258v5M507.5 620v1M508.5 261v6M508.5 619v1M509.5 263v4M510.5 261v10M510.5 614v9M511.5 267v5M511.5 624v6M512.5 268v2M512.5 620v5M513.5 272v5M513.5 627v6M513.5 665v1M514.5 265v2M514.5 623v8M515.5 271v1M515.5 628v3M516.5 280v4M516.5 620v16M517.5 275v7M517.5 297v1M517.5 621v16M517.5 665v1M518.5 270v7M518.5 639v1M519.5 278v2M519.5 638v1M520.5 272v5M520.5 665v1M521.5 298v1M521.5 650v3M521.5 666v1M522.5 280v1M522.5 631v8M523.5 266v7M523.5 640v5M524.5 280v1M524.5 645v1M525.5 276v1M525.5 641v6M526.5 275v4M526.5 640v4M527.5 279v1M527.5 645v1M528.5 646v4M528.5 667v1M529.5 281v1M529.5 636v11M530.5 646v6M531.5 278v1M531.5 667v1M532.5 280v2M532.5 652v1M533.5 277v8M533.5 655v3M533.5 667v1M534.5 282v2M534.5 651v1M535.5 284v4M535.5 644v3M537.5 281v8M537.5 653v2M537.5 667v1M538.5 284v2M539.5 275v2M539.5 655v1M540.5 653v1M541.5 282v1M541.5 298v1M541.5 656v1M542.5 273v4M542.5 660v2M543.5 273v6M543.5 655v4M544.5 274v4M544.5 651v1M545.5 275v2M546.5 653v3M547.5 271v12M547.5 653v3M548.5 276v1M548.5 298v1M549.5 276v3M550.5 277v4M550.5 657v3M551.5 660v1M552.5 268v6M552.5 656v3M552.5 668v1M553.5 274v8M553.5 657v2M554.5 272v3M554.5 659v1M555.5 280v3M555.5 658v3M556.5 278v5M556.5 660v1M557.5 272v11M558.5 272v4M558.5 660v2M559.5 273v5M559.5 657v3M560.5 281v2M560.5 298v1M560.5 661v1M561.5 660v1M562.5 278v2M562.5 660v1M562.5 668v1M563.5 265v2M563.5 660v1M565.5 281v1M565.5 298v1M565.5 663v1M566.5 273v7M567.5 277v9M567.5 298v1M567.5 661v1M568.5 281v2M568.5 661v3M569.5 276v3M569.5 298v1M569.5 662v1M570.5 267v4M570.5 661v2M571.5 270v1M572.5 273v6M572.5 298v1M572.5 662v1M573.5 270v4M574.5 271v6M574.5 665v1M574.5 668v1M575.5 272v2M577.5 660v1M578.5 262v8M578.5 659v1M579.5 663v1M580.5 663v1M581.5 273v1M581.5 663v2M582.5 283v3M582.5 298v1M583.5 263v3M584.5 277v4M585.5 264v7M585.5 298v1M586.5 276v2M587.5 267v5M588.5 266v1M589.5 275v1M589.5 664v1M589.5 668v1M590.5 298v1M590.5 669v1M591.5 266v2M592.5 266v2M593.5 250v6M594.5 261v6M594.5 298v1M595.5 257v5M595.5 664v1M596.5 267v10M596.5 298v1M596.5 666v2M597.5 253v13M597.5 298v1M597.5 665v1M598.5 255v4M599.5 298v1M599.5 666v1M599.5 669v1M600.5 298v1M601.5 257v11M601.5 669v1M602.5 260v12M603.5 252v9M604.5 254v10M604.5 668v1M605.5 266v5M605.5 298v1M605.5 664v1M606.5 255v14M606.5 665v1M606.5 669v1M607.5 259v7M608.5 252v11M608.5 667v1M608.5 669v1M609.5 258v2M609.5 663v1M609.5 669v1M610.5 261v1M610.5 665v2M611.5 265v2M611.5 669v1M612.5 267v4M612.5 666v1M613.5 249v10M614.5 230v11M615.5 267v3M615.5 668v1M616.5 258v5M617.5 257v7M618.5 234v5M618.5 666v1M619.5 247v7M620.5 240v4M621.5 254v4M621.5 666v1M622.5 665v1M623.5 247v16M623.5 298v1M624.5 246v9M625.5 258v1M625.5 298v1M625.5 667v1M626.5 229v8M626.5 669v1M627.5 251v3M627.5 666v1M628.5 253v2M628.5 298v1M629.5 242v1M630.5 241v7M631.5 239v8M632.5 241v9M633.5 247v10M633.5 666v1M634.5 246v6M634.5 669v1M635.5 264v1M635.5 668v2M636.5 247v13M636.5 667v1M636.5 669v1M637.5 246v8M637.5 669v1M638.5 258v10M638.5 667v1M638.5 669v1M639.5 263v1M639.5 669v1M640.5 257v5M640.5 298v1M641.5 242v8M642.5 250v4M643.5 257v3M643.5 669v1M644.5 261v2M645.5 250v7M646.5 264v2M646.5 668v1M647.5 245v9M648.5 262v2M648.5 669v1M649.5 246v7M651.5 259v1M652.5 251v7M652.5 298v1M653.5 263v2M653.5 666v1M654.5 267v9M654.5 298v1M654.5 669v1M655.5 259v1M656.5 256v6M656.5 298v1M657.5 267v6M657.5 298v1M658.5 258v6M658.5 666v1M659.5 268v6M659.5 667v1M660.5 263v6M660.5 669v1M661.5 261v8M661.5 666v1M662.5 264v3M662.5 667v1M663.5 277v3M664.5 270v2M666.5 260v10M667.5 258v5M667.5 669v1M668.5 668v1M669.5 268v3M669.5 298v1M669.5 667v1M669.5 669v1M670.5 271v5M671.5 261v9M672.5 272v3M673.5 271v1M673.5 668v1M675.5 266v3M675.5 668v1M676.5 273v5M676.5 298v1M677.5 264v9M678.5 270v2M678.5 667v1M679.5 274v6M680.5 275v2M681.5 273v6M681.5 668v1M682.5 278v3M683.5 276v5M684.5 277v3M685.5 272v1M687.5 272v11M687.5 669v1M689.5 281v9M689.5 667v1M690.5 298v1M691.5 284v1M691.5 669v1M692.5 271v6M692.5 669v1M693.5 668v1M694.5 280v4M694.5 669v1M695.5 276v2M696.5 275v4M696.5 668v1M697.5 278v3M698.5 283v1M700.5 274v10M700.5 298v1M700.5 669v1M701.5 667v1M702.5 283v1M703.5 669v1M705.5 280v1M705.5 298v1M706.5 298v1M707.5 276v4M707.5 668v1M708.5 282v1M709.5 280v7M710.5 289v3M710.5 298v1M711.5 281v1M711.5 298v1M712.5 278v3M713.5 279v3M714.5 294v1M714.5 298v1M715.5 286v1M716.5 286v2M718.5 285v1M718.5 298v1M719.5 282v1M719.5 298v1M722.5 282v1M722.5 669v1M723.5 283v3M724.5 282v3M725.5 289v1M726.5 288v2M726.5 298v1M727.5 292v1M728.5 288v4M728.5 298v1M729.5 292v1"/>
<path stroke="rgb(0,0,0)" stroke-width="1" fill="none" shape-rendering="crispEdges" d="M71.5 668v2M72.5 663v7M73.5 658v12M74.5 660v9M75.5 658v11M76.5 649v20M77.5 651v18M78.5 648v22M79.5 631v37M80.5 643v25M81.5 640v29M82.5 639v29M83.5 627v41M84.5 632v35M85.5 633v35M86.5 636v32M87.5 634v33M88.5 628v39M89.5 640v26M90.5 619v47M91.5 293v6M91.5 626v40M92.5 291v8M92.5 615v52M93.5 292v7M93.5 635v31M94.5 292v7M94.5 632v35M95.5 290v9M95.5 634v33M96.5 285v14M96.5 629v38M97.5 289v10M97.5 627v38M98.5 287v12M98.5 627v39M99.5 291v8M99.5 624v43M100.5 285v15M100.5 624v43M101.5 286v13M101.5 625v41M102.5 285v14M102.5 630v36M103.5 289v10M103.5 628v38M104.5 281v18M104.5 615v51M105.5 281v18M105.5 615v52M106.5 283v16M106.5 614v52M107.5 279v20M107.5 635v32M108.5 274v25M108.5 627v40M109.5 279v20M109.5 623v43M110.5 280v19M110.5 619v48M111.5 288v11M111.5 612v55M112.5 275v21M112.5 617v50M113.5 277v18M113.5 627v39M114.5 273v22M114.5 618v49M115.5 272v21M115.5 619v48M116.5 268v28M116.5 614v52M117.5 270v25M117.5 615v52M118.5 270v25M118.5 597v70M119.5 276v20M119.5 608v58M120.5 270v26M120.5 607v61M121.5 269v25M121.5 627v40M122.5 265v29M122.5 604v62M123.5 269v27M123.5 623v43M124.5 277v18M124.5 628v39M125.5 271v23M125.5 603v63M126.5 270v26M126.5 611v56M127.5 272v18M127.5 618v48M128.5 255v41M128.5 616v51M129.5 256v39M129.5 606v61M130.5 265v28M130.5 620v46M131.5 269v25M131.5 625v41M132.5 263v32M132.5 612v54M133.5 257v31M133.5 610v56M134.5 275v18M134.5 603v63M135.5 277v13M135.5 615v51M136.5 264v29M136.5 583v83M137.5 265v30M137.5 600v67M138.5 268v28M138.5 620v47M139.5 266v24M139.5 592v73M140.5 246v49M140.5 619v47M141.5 273v21M141.5 622v45M142.5 260v34M142.5 608v57M143.5 274v21M143.5 611v55M144.5 264v30M144.5 619v47M145.5 250v44M145.5 605v62M146.5 261v33M146.5 601v66M147.5 266v29M147.5 592v74M148.5 249v43M148.5 595v71M149.5 245v50M149.5 622v44M150.5 257v34M150.5 616v51M151.5 244v50M151.5 594v72M152.5 259v34M152.5 594v72M153.5 263v32M153.5 592v74M154.5 257v34M154.5 605v61M155.5 268v26M155.5 595v71M156.5 246v48M156.5 603v62M157.5 242v51M157.5 603v63M158.5 270v25M158.5 596v70M159.5 250v41M159.5 598v69M160.5 225v70M160.5 601v65M161.5 189v105M161.5 588v78M162.5 236v56M162.5 602v64M163.5 239v56M163.5 618v48M164.5 230v63M164.5 601v66M165.5 240v54M165.5 593v73M166.5 228v65M166.5 571v95M167.5 229v65M167.5 596v69M168.5 236v50M168.5 565v101M169.5 239v55M169.5 565v100M170.5 230v62M170.5 593v72M171.5 236v58M171.5 596v70M172.5 215v79M172.5 584v81M173.5 233v55M173.5 561v105M174.5 219v74M174.5 578v89M175.5 238v54M175.5 561v104M176.5 251v41M176.5 589v77M177.5 193v99M177.5 595v71M178.5 187v105M178.5 572v94M179.5 205v89M179.5 562v104M180.5 206v86M180.5 555v111M181.5 202v90M181.5 563v103M182.5 201v92M182.5 568v98M183.5 163v129M183.5 551v114M184.5 181v113M184.5 567v99M185.5 190v94M185.5 546v120M186.5 170v121M186.5 577v88M187.5 196v98M187.5 570v96M188.5 167v127M188.5 573v92M189.5 188v105M189.5 547v119M190.5 176v115M190.5 544v122M191.5 173v111M191.5 554v112M192.5 187v100M192.5 553v114M193.5 142v148M193.5 641v27M194.5 179v115M194.5 641v26M195.5 152v139M195.5 644v23M196.5 180v111M196.5 645v23M197.5 193v99M197.5 649v18M198.5 174v116M198.5 650v18M199.5 169v123M199.5 652v15M200.5 170v118M200.5 647v21M201.5 178v113M201.5 651v17M202.5 173v119M202.5 652v16M203.5 154v134M203.5 654v14M204.5 200v92M204.5 653v15M205.5 183v100M205.5 655v14M206.5 187v106M206.5 649v20M207.5 170v122M207.5 653v15M208.5 197v95M208.5 654v14M209.5 204v86M209.5 658v10M210.5 174v118M210.5 655v13M211.5 214v78M211.5 655v14M212.5 220v67M212.5 660v8M213.5 200v93M213.5 657v11M214.5 166v127M214.5 659v9M215.5 234v53M215.5 658v10M216.5 211v77M216.5 659v9M217.5 195v97M217.5 657v12M218.5 207v86M218.5 660v8M219.5 207v85M219.5 660v9M220.5 209v81M220.5 662v6M221.5 172v121M221.5 657v11M222.5 206v84M222.5 659v9M223.5 207v85M223.5 659v9M224.5 211v76M224.5 660v8M225.5 199v94M225.5 660v8M226.5 227v67M226.5 661v7M227.5 216v77M227.5 662v6M228.5 213v80M228.5 662v6M229.5 229v63M229.5 661v8M230.5 240v52M230.5 662v6M231.5 217v75M231.5 662v6M232.5 232v62M232.5 662v7M233.5 231v64M233.5 663v6M234.5 224v69M234.5 661v7M235.5 247v45M235.5 663v6M236.5 216v77M236.5 662v6M237.5 244v49M237.5 662v6M238.5 217v77M238.5 663v6M239.5 221v73M239.5 664v5M240.5 212v81M240.5 663v6M241.5 231v63M241.5 664v4M242.5 252v41M242.5 664v5M243.5 229v62M243.5 663v6M244.5 227v64M244.5 665v4M245.5 241v53M245.5 664v4M246.5 250v44M246.5 666v2M247.5 233v60M247.5 664v5M248.5 239v51M248.5 664v5M249.5 239v53M249.5 664v5M250.5 228v63M250.5 665v4M251.5 245v48M251.5 666v3M252.5 253v36M252.5 664v5M253.5 252v42M253.5 666v3M254.5 253v41M254.5 665v4M255.5 270v25M255.5 665v4M256.5 265v30M256.5 665v4M257.5 266v28M257.5 666v3M258.5 252v43M258.5 667v2M259.5 256v36M259.5 666v3M260.5 250v45M260.5 666v3M261.5 255v40M261.5 665v4M262.5 246v48M262.5 667v2M263.5 259v36M263.5 665v4M264.5 261v34M264.5 666v3M265.5 276v19M265.5 667v2M266.5 271v22M266.5 667v2M267.5 259v35M267.5 665v4M268.5 268v27M268.5 666v3M269.5 261v33M269.5 666v3M270.5 271v23M270.5 666v4M271.5 265v27M271.5 667v2M272.5 266v30M272.5 666v3M273.5 285v10M273.5 667v2M274.5 273v21M274.5 667v2M275.5 284v11M275.5 667v3M276.5 272v22M276.5 667v3M277.5 270v23M277.5 666v3M278.5 279v15M278.5 667v2M279.5 282v7M279.5 666v3M280.5 271v25M280.5 668v1M281.5 274v21M281.5 667v2M282.5 267v29M282.5 667v2M283.5 273v22M283.5 667v2M284.5 271v20M284.5 667v2M285.5 274v21M285.5 668v1M286.5 270v25M287.5 268v28M287.5 667v2M288.5 277v18M288.5 666v3M289.5 276v19M289.5 667v2M290.5 279v14M290.5 667v2M291.5 278v15M291.5 668v1M292.5 271v25M292.5 668v1M293.5 282v14M293.5 667v2M294.5 277v15M294.5 667v2M295.5 277v18M295.5 668v1M296.5 281v15M297.5 269v26M297.5 667v2M298.5 278v17M298.5 668v1M299.5 273v21M299.5 668v1M300.5 281v16M301.5 276v20M301.5 668v1M302.5 282v14M302.5 668v1M303.5 272v24M303.5 668v2M304.5 278v18M304.5 668v2M305.5 281v15M305.5 669v1M306.5 281v15M307.5 275v20M307.5 668v2M308.5 274v22M308.5 668v1M309.5 283v11M309.5 668v2M310.5 282v11M310.5 668v1M311.5 281v14M311.5 668v1M312.5 275v21M312.5 669v1M313.5 285v9M313.5 669v1M314.5 272v24M314.5 668v2M315.5 277v19M315.5 669v1M316.5 289v6M316.5 669v1M317.5 281v14M317.5 669v1M318.5 283v11M319.5 279v15M320.5 287v8M320.5 668v1M321.5 279v16M322.5 284v11M322.5 668v2M323.5 279v17M323.5 668v2M324.5 280v16M324.5 669v1M325.5 285v11M325.5 668v1M326.5 279v16M327.5 282v13M327.5 669v1M328.5 284v12M328.5 669v1M329.5 281v13M329.5 669v1M330.5 285v11M330.5 669v1M331.5 287v9M331.5 668v2M332.5 283v12M332.5 669v1M333.5 283v13M333.5 669v1M334.5 283v13M334.5 669v1M335.5 283v12M335.5 669v1M336.5 286v9M336.5 668v2M337.5 284v12M337.5 669v1M338.5 285v11M338.5 668v2M339.5 285v11M339.5 669v1M463.5 297v2M464.5 283v15M465.5 280v19M466.5 249v50M467.5 233v66M468.5 202v97M469.5 202v97M470.5 195v102M471.5 184v113M472.5 164v132M473.5 178v117M474.5 172v122M474.5 670v1M475.5 175v119M476.5 169v125M477.5 189v105M478.5 169v124M478.5 662v8M479.5 184v110M479.5 661v9M480.5 186v108M480.5 660v11M481.5 175v119M481.5 658v13M482.5 197v97M482.5 660v11M483.5 195v99M483.5 660v10M484.5 194v101M484.5 658v13M485.5 203v92M485.5 659v12M486.5 195v100M486.5 658v13M487.5 216v79M487.5 656v15M488.5 212v84M488.5 656v14M489.5 216v79M489.5 656v15M490.5 221v74M490.5 654v17M491.5 232v63M491.5 656v14M492.5 239v57M492.5 516v153M493.5 236v60M493.5 492v175M494.5 236v60M494.5 505v158M495.5 252v44M495.5 512v148M496.5 246v50M496.5 530v131M497.5 260v36M497.5 543v118M498.5 256v41M498.5 564v97M499.5 255v41M499.5 564v98M500.5 259v37M500.5 587v75M501.5 265v32M501.5 590v72M502.5 267v30M502.5 593v69M503.5 264v33M503.5 601v62M504.5 266v31M504.5 616v48M505.5 277v19M505.5 615v49M506.5 268v29M506.5 609v55M507.5 263v34M507.5 621v44M508.5 267v30M508.5 620v45M509.5 267v30M509.5 626v39M510.5 271v26M510.5 623v43M511.5 272v25M511.5 630v36M512.5 270v27M512.5 625v41M513.5 277v21M513.5 633v32M514.5 267v30M514.5 631v35M515.5 272v26M515.5 631v35M516.5 284v13M516.5 636v31M517.5 282v15M517.5 637v28M518.5 277v20M518.5 640v26M519.5 280v18M519.5 639v27M520.5 277v21M520.5 644v21M521.5 282v16M521.5 653v13M522.5 281v17M522.5 639v28M523.5 273v25M523.5 645v21M524.5 281v17M524.5 646v21M525.5 277v21M525.5 647v20M526.5 279v19M526.5 644v23M527.5 280v18M527.5 646v21M528.5 282v16M528.5 650v17M529.5 282v16M529.5 647v19M530.5 286v12M530.5 652v15M531.5 279v19M531.5 650v17M532.5 282v16M532.5 653v13M533.5 285v13M533.5 658v9M534.5 284v14M534.5 652v15M535.5 288v10M535.5 647v21M536.5 288v10M536.5 654v13M537.5 289v9M537.5 655v12M538.5 286v12M538.5 657v11M539.5 277v21M539.5 656v11M540.5 283v15M540.5 654v14M541.5 283v15M541.5 657v11M542.5 277v21M542.5 662v6M543.5 279v19M543.5 659v9M544.5 278v20M544.5 652v16M545.5 277v21M545.5 657v11M546.5 284v14M546.5 656v12M547.5 283v15M547.5 656v12M548.5 277v21M548.5 658v11M549.5 279v19M549.5 662v7M550.5 281v17M550.5 660v8M551.5 281v17M551.5 661v8M552.5 274v24M552.5 659v9M553.5 282v16M553.5 659v9M554.5 275v24M554.5 660v8M555.5 283v15M555.5 661v8M556.5 283v15M556.5 661v7M557.5 283v15M557.5 660v9M558.5 276v22M558.5 662v7M559.5 278v20M559.5 660v8M560.5 283v15M560.5 662v6M561.5 280v18M561.5 661v7M562.5 280v18M562.5 661v7M563.5 267v31M563.5 661v8M564.5 266v32M564.5 658v11M565.5 282v16M565.5 664v4M566.5 280v18M566.5 663v5M567.5 286v12M567.5 662v7M568.5 283v16M568.5 664v5M569.5 279v19M569.5 663v6M570.5 271v27M570.5 663v5M571.5 271v28M571.5 659v10M572.5 279v19M572.5 663v6M573.5 274v24M573.5 662v7M574.5 277v22M574.5 666v2M575.5 274v24M575.5 666v3M576.5 279v19M576.5 665v4M577.5 282v16M577.5 661v8M578.5 270v28M578.5 660v9M579.5 274v24M579.5 664v4M580.5 271v28M580.5 664v5M581.5 274v24M581.5 665v4M582.5 286v12M582.5 664v5M583.5 266v33M583.5 664v4M584.5 281v17M584.5 662v7M585.5 271v27M585.5 665v4M586.5 278v20M586.5 664v6M587.5 272v26M587.5 665v4M588.5 267v31M588.5 664v5M589.5 276v22M589.5 665v3M590.5 283v15M590.5 665v4M591.5 268v30M591.5 665v5M592.5 268v30M592.5 665v4M593.5 256v43M593.5 666v3M594.5 267v31M594.5 664v5M595.5 262v37M595.5 665v4M596.5 277v21M596.5 668v1M597.5 266v32M597.5 666v3M598.5 259v40M598.5 667v2M599.5 282v16M599.5 667v2M600.5 276v22M600.5 665v4M601.5 268v31M601.5 665v4M602.5 272v26M602.5 666v3M603.5 261v37M603.5 666v3M604.5 264v35M604.5 667v1M605.5 271v27M605.5 665v4M606.5 269v30M606.5 666v3M607.5 266v32M607.5 666v3M608.5 263v35M608.5 668v1M609.5 260v39M609.5 664v5M610.5 262v37M610.5 667v3M611.5 267v31M611.5 666v3M612.5 271v28M612.5 667v3M613.5 259v39M613.5 666v3M614.5 241v57M614.5 667v2M615.5 270v28M616.5 263v35M616.5 667v2M617.5 264v35M617.5 667v2M618.5 239v59M618.5 667v2M619.5 254v44M619.5 666v3M620.5 244v54M620.5 667v2M621.5 258v40M621.5 667v2M622.5 243v55M622.5 666v3M623.5 263v35M623.5 667v2M624.5 255v44M624.5 667v2M625.5 259v39M625.5 668v2M626.5 237v61M626.5 667v2M627.5 254v44M627.5 667v2M628.5 255v43M629.5 243v55M629.5 668v2M630.5 248v50M630.5 668v2M631.5 247v51M631.5 668v2M632.5 250v49M632.5 667v3M633.5 257v42M633.5 667v2M634.5 252v46M634.5 667v2M635.5 265v34M636.5 260v39M636.5 668v1M637.5 254v44M637.5 666v3M638.5 268v30M638.5 668v1M639.5 264v34M639.5 666v3M640.5 262v36M640.5 668v1M641.5 250v48M641.5 666v3M642.5 254v44M642.5 666v3M643.5 260v38M643.5 668v1M644.5 263v36M644.5 668v1M645.5 257v42M645.5 666v4M646.5 266v32M646.5 669v1M647.5 254v44M648.5 264v35M648.5 666v3M649.5 253v45M650.5 265v33M650.5 667v2M651.5 260v38M651.5 667v2M652.5 258v40M652.5 668v1M653.5 265v34M653.5 667v3M654.5 276v22M655.5 260v38M655.5 668v2M656.5 262v36M656.5 667v2M657.5 273v25M657.5 668v2M658.5 264v35M658.5 667v2M659.5 274v24M659.5 668v1M660.5 269v29M661.5 269v29M661.5 667v2M662.5 267v32M662.5 668v2M663.5 280v18M663.5 668v1M664.5 272v26M665.5 274v24M666.5 270v28M666.5 668v2M667.5 263v36M667.5 668v1M668.5 267v31M669.5 271v27M669.5 668v1M670.5 276v23M670.5 668v1M671.5 270v28M671.5 669v1M672.5 275v23M673.5 272v27M673.5 669v1M674.5 277v22M674.5 668v2M675.5 269v30M676.5 278v20M676.5 667v3M677.5 273v26M677.5 668v2M678.5 272v26M678.5 668v2M679.5 280v18M680.5 277v21M680.5 669v1M681.5 279v19M681.5 669v1M682.5 281v17M682.5 668v2M683.5 281v18M683.5 667v3M684.5 280v18M684.5 669v1M685.5 273v26M686.5 272v27M686.5 668v2M687.5 283v15M688.5 285v14M689.5 290v8M689.5 668v2M690.5 285v13M690.5 669v1M691.5 285v14M692.5 277v21M693.5 285v13M693.5 669v1M694.5 284v15M695.5 278v20M695.5 668v2M696.5 279v19M696.5 669v1M697.5 281v17M698.5 284v14M698.5 668v2M699.5 272v27M700.5 284v14M701.5 285v13M701.5 668v1M702.5 284v14M703.5 286v12M703.5 668v1M704.5 287v12M704.5 669v1M705.5 281v17M705.5 668v2M706.5 287v11M707.5 280v18M707.5 669v1M708.5 283v15M708.5 669v1M709.5 287v11M710.5 292v6M710.5 669v1M711.5 282v16M712.5 281v17M712.5 669v1M713.5 282v16M713.5 669v1M714.5 295v3M714.5 668v2M715.5 287v11M716.5 288v10M717.5 286v12M717.5 669v1M718.5 286v12M718.5 669v1M719.5 283v15M719.5 669v1M720.5 289v10M720.5 669v1M721.5 290v9M721.5 669v1M722.5 283v16M723.5 286v13M723.5 669v1M724.5 285v13M724.5 669v1M725.5 290v8M726.5 290v8M727.5 293v5M727.5 669v1M728.5 292v6M729.5 293v6M729.5 669v1"/>
<path d="M69.2 299.5H92" stroke="#555" stroke-width="0.9" fill="none"/>
<path d="M458.5 299.5H464" stroke="#555" stroke-width="0.9" fill="none"/>
<path d="M458.5 671H475" stroke="#555" stroke-width="0.9" fill="none"/>
</g>
<path d="M59.0 27.0V299.5" class="ax"/>
<path d="M46.5 299.5H59.0" class="ax"/>
<text class="tk" transform="translate(38.8,299.5) rotate(-90)" text-anchor="middle">0</text>
<path d="M46.5 245.0H59.0" class="ax"/>
<text class="tk" transform="translate(38.8,245.0) rotate(-90)" text-anchor="middle">100</text>
<path d="M46.5 190.5H59.0" class="ax"/>
<text class="tk" transform="translate(38.8,190.5) rotate(-90)" text-anchor="middle">200</text>
<path d="M46.5 136.0H59.0" class="ax"/>
<text class="tk" transform="translate(38.8,136.0) rotate(-90)" text-anchor="middle">300</text>
<path d="M46.5 81.5H59.0" class="ax"/>
<text class="tk" transform="translate(38.8,81.5) rotate(-90)" text-anchor="middle">400</text>
<path d="M46.5 27.0H59.0" class="ax"/>
<text class="tk" transform="translate(38.8,27.0) rotate(-90)" text-anchor="middle">500</text>
<path d="M69.8 311.5H339.7" class="ax"/>
<path d="M69.8 311.5V323.5" class="ax"/>
<text class="tk" x="69.8" y="342.0" text-anchor="middle">0.0000</text>
<path d="M137.3 311.5V323.5" class="ax"/>
<text class="tk" x="137.3" y="342.0" text-anchor="middle">0.0005</text>
<path d="M204.8 311.5V323.5" class="ax"/>
<text class="tk" x="204.8" y="342.0" text-anchor="middle">0.0010</text>
<path d="M272.2 311.5V323.5" class="ax"/>
<text class="tk" x="272.2" y="342.0" text-anchor="middle">0.0015</text>
<path d="M339.7 311.5V323.5" class="ax"/>
<text class="tk" x="339.7" y="342.0" text-anchor="middle">0.0020</text>
<text class="tk" x="204.7" y="359.5" text-anchor="middle">Temperature</text>
<path d="M448.1 9.3V299.5" class="ax"/>
<path d="M435.6 299.5H448.1" class="ax"/>
<text class="tk" transform="translate(427.9,299.5) rotate(-90)" text-anchor="middle">0</text>
<path d="M435.6 251.1H448.1" class="ax"/>
<text class="tk" transform="translate(427.9,251.1) rotate(-90)" text-anchor="middle">50</text>
<path d="M435.6 202.8H448.1" class="ax"/>
<text class="tk" transform="translate(427.9,202.8) rotate(-90)" text-anchor="middle">100</text>
<path d="M435.6 154.4H448.1" class="ax"/>
<text class="tk" transform="translate(427.9,154.4) rotate(-90)" text-anchor="middle">150</text>
<path d="M435.6 106.0H448.1" class="ax"/>
<text class="tk" transform="translate(427.9,106.0) rotate(-90)" text-anchor="middle">200</text>
<path d="M435.6 57.7H448.1" class="ax"/>
<text class="tk" transform="translate(427.9,57.7) rotate(-90)" text-anchor="middle">250</text>
<path d="M435.6 9.3H448.1" class="ax"/>
<text class="tk" transform="translate(427.9,9.3) rotate(-90)" text-anchor="middle">300</text>
<path d="M458.5 311.5H729.0" class="ax"/>
<path d="M458.5 311.5V323.5" class="ax"/>
<text class="tk" x="458.5" y="342.0" text-anchor="middle">0.000</text>
<path d="M526.1 311.5V323.5" class="ax"/>
<text class="tk" x="526.1" y="342.0" text-anchor="middle">0.005</text>
<path d="M593.8 311.5V323.5" class="ax"/>
<text class="tk" x="593.8" y="342.0" text-anchor="middle">0.010</text>
<path d="M661.4 311.5V323.5" class="ax"/>
<text class="tk" x="661.4" y="342.0" text-anchor="middle">0.015</text>
<path d="M729.0 311.5V323.5" class="ax"/>
<text class="tk" x="729.0" y="342.0" text-anchor="middle">0.020</text>
<text class="tk" x="594.0" y="359.5" text-anchor="middle">Temperature</text>
<path d="M59.0 406.6V671.0" class="ax"/>
<path d="M46.5 671.0H59.0" class="ax"/>
<text class="tk" transform="translate(38.8,671.0) rotate(-90)" text-anchor="middle">0</text>
<path d="M46.5 618.1H59.0" class="ax"/>
<text class="tk" transform="translate(38.8,618.1) rotate(-90)" text-anchor="middle">50</text>
<path d="M46.5 565.2H59.0" class="ax"/>
<text class="tk" transform="translate(38.8,565.2) rotate(-90)" text-anchor="middle">100</text>
<path d="M46.5 512.4H59.0" class="ax"/>
<text class="tk" transform="translate(38.8,512.4) rotate(-90)" text-anchor="middle">150</text>
<path d="M46.5 459.5H59.0" class="ax"/>
<text class="tk" transform="translate(38.8,459.5) rotate(-90)" text-anchor="middle">200</text>
<path d="M46.5 406.6H59.0" class="ax"/>
<text class="tk" transform="translate(38.8,406.6) rotate(-90)" text-anchor="middle">250</text>
<path d="M69.8 682.6H339.7" class="ax"/>
<path d="M69.8 682.6V694.6" class="ax"/>
<text class="tk" x="69.8" y="713.1" text-anchor="middle">0.000</text>
<path d="M123.8 682.6V694.6" class="ax"/>
<text class="tk" x="123.8" y="713.1" text-anchor="middle">0.002</text>
<path d="M177.8 682.6V694.6" class="ax"/>
<text class="tk" x="177.8" y="713.1" text-anchor="middle">0.004</text>
<path d="M231.7 682.6V694.6" class="ax"/>
<text class="tk" x="231.7" y="713.1" text-anchor="middle">0.006</text>
<path d="M285.7 682.6V694.6" class="ax"/>
<text class="tk" x="285.7" y="713.1" text-anchor="middle">0.008</text>
<path d="M339.7 682.6V694.6" class="ax"/>
<text class="tk" x="339.7" y="713.1" text-anchor="middle">0.010</text>
<text class="tk" x="204.7" y="730.6" text-anchor="middle">Temperature</text>
<path d="M448.1 414.9V671.0" class="ax"/>
<path d="M435.6 671.0H448.1" class="ax"/>
<text class="tk" transform="translate(427.9,671.0) rotate(-90)" text-anchor="middle">0</text>
<path d="M435.6 607.0H448.1" class="ax"/>
<text class="tk" transform="translate(427.9,607.0) rotate(-90)" text-anchor="middle">100</text>
<path d="M435.6 543.0H448.1" class="ax"/>
<text class="tk" transform="translate(427.9,543.0) rotate(-90)" text-anchor="middle">200</text>
<path d="M435.6 478.9H448.1" class="ax"/>
<text class="tk" transform="translate(427.9,478.9) rotate(-90)" text-anchor="middle">300</text>
<path d="M435.6 414.9H448.1" class="ax"/>
<text class="tk" transform="translate(427.9,414.9) rotate(-90)" text-anchor="middle">400</text>
<path d="M458.5 682.6H729.0" class="ax"/>
<path d="M458.5 682.6V694.6" class="ax"/>
<text class="tk" x="458.5" y="713.1" text-anchor="middle">0.0000</text>
<path d="M526.1 682.6V694.6" class="ax"/>
<text class="tk" x="526.1" y="713.1" text-anchor="middle">0.0005</text>
<path d="M593.8 682.6V694.6" class="ax"/>
<text class="tk" x="593.8" y="713.1" text-anchor="middle">0.0010</text>
<path d="M661.4 682.6V694.6" class="ax"/>
<text class="tk" x="661.4" y="713.1" text-anchor="middle">0.0015</text>
<path d="M729.0 682.6V694.6" class="ax"/>
<text class="tk" x="729.0" y="713.1" text-anchor="middle">0.0020</text>
<text class="tk" x="594.0" y="730.6" text-anchor="middle">Temperature</text>
<text class="tk" transform="translate(14.8,152.6) rotate(-90)" text-anchor="middle">Specific Heat</text>
<text class="tk" transform="translate(403.9,152.6) rotate(-90)" text-anchor="middle">Specific Heat</text>
<text class="tk" transform="translate(14.8,523.9) rotate(-90)" text-anchor="middle">Specific Heat</text>
<text class="tk" transform="translate(403.9,523.9) rotate(-90)" text-anchor="middle">Specific Heat</text>
<text class="lb" x="0.0" y="50.6">A</text>
<text class="lb" x="388.6" y="42.5">B</text>
<text class="lb" x="0.1" y="430.8">C</text>
<text class="lb" x="388.6" y="430.6">D</text>
<text class="tk" x="655.6" y="753.5" text-anchor="middle" style="font-size:13.5px">Direction of Search</text>
<path d="M566 760.5H726.5" class="ax"/>
<path d="M560.3 760.5L575 756.2L570.8 760.5L575 764.8Z" fill="#000" stroke="#000" stroke-width="0.8" stroke-linejoin="round"/>
</svg></body></html>
